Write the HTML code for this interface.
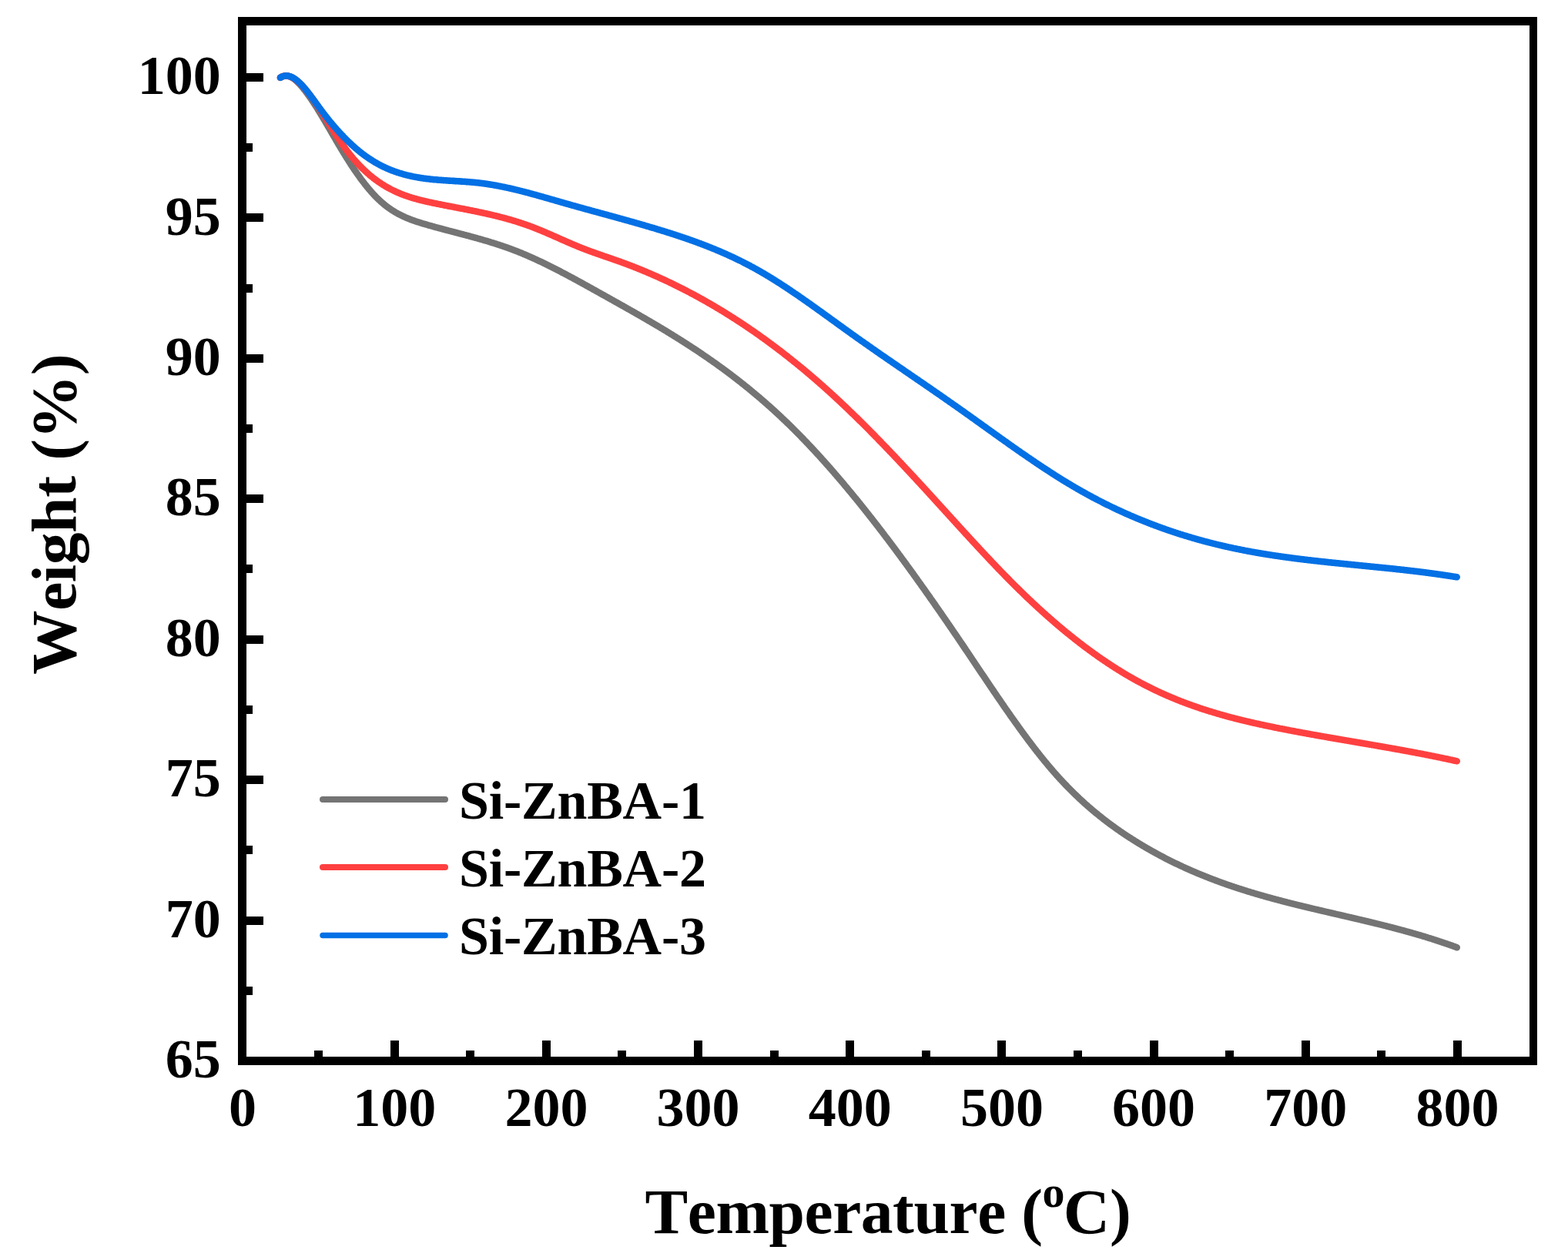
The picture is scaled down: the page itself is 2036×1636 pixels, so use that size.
<!DOCTYPE html>
<html><head><meta charset="utf-8"><title>TGA</title>
<style>
html,body{margin:0;padding:0;background:#fff;width:2036px;height:1636px;overflow:hidden}
svg{display:block}
text{font-family:"Liberation Serif","Times New Roman",serif;font-weight:bold;fill:#000;font-kerning:none}
</style></head><body>
<svg width="2036" height="1636" viewBox="0 0 2036 1636">
<rect width="2036" height="1636" fill="#fff"/>
<path d="M364.0,101.0 L365.0,100.3 L366.0,99.7 L367.0,99.2 L368.0,98.9 L369.0,98.6 L370.0,98.4 L371.0,98.4 L372.0,98.4 L373.0,98.5 L374.0,98.6 L375.0,98.9 L376.0,99.2 L377.0,99.6 L378.0,100.1 L379.0,100.7 L380.0,101.3 L381.0,101.9 L382.0,102.7 L383.0,103.5 L384.0,104.3 L385.0,105.2 L386.0,106.1 L387.0,107.1 L388.0,108.1 L389.0,109.2 L390.0,110.3 L391.0,111.4 L392.0,112.6 L393.0,113.8 L394.0,115.0 L395.0,116.3 L396.0,117.5 L397.0,118.8 L398.0,120.2 L399.0,121.5 L400.0,122.9 L401.0,124.3 L402.0,125.7 L403.0,127.1 L404.0,128.6 L405.0,130.0 L406.0,131.5 L407.0,133.0 L408.0,134.6 L409.0,136.1 L410.0,137.7 L411.0,139.2 L412.0,140.8 L413.0,142.4 L414.0,144.0 L415.0,145.7 L416.0,147.3 L417.0,149.0 L418.0,150.6 L419.0,152.3 L420.0,154.0 L421.0,155.6 L422.0,157.3 L423.0,159.0 L424.0,160.7 L425.0,162.4 L426.0,164.2 L427.0,165.9 L428.0,167.6 L429.0,169.3 L430.0,171.0 L431.0,172.8 L432.0,174.5 L433.0,176.2 L434.0,177.9 L435.0,179.6 L436.0,181.3 L437.0,183.1 L438.0,184.8 L439.0,186.5 L440.0,188.2 L441.0,189.8 L442.0,191.5 L443.0,193.2 L444.0,194.9 L445.0,196.5 L446.0,198.2 L447.0,199.8 L448.0,201.4 L449.0,203.0 L450.0,204.6 L451.0,206.2 L452.0,207.8 L453.0,209.4 L454.0,210.9 L455.0,212.5 L456.0,214.0 L457.0,215.5 L458.0,217.0 L459.0,218.5 L460.0,220.0 L461.0,221.5 L462.0,222.9 L463.0,224.4 L464.0,225.8 L465.0,227.2 L466.0,228.6 L467.0,230.0 L468.0,231.4 L469.0,232.8 L470.0,234.1 L471.0,235.4 L472.0,236.7 L473.0,238.0 L474.0,239.3 L475.0,240.6 L476.0,241.8 L477.0,243.1 L478.0,244.3 L479.0,245.5 L480.0,246.6 L481.0,247.8 L482.0,249.0 L483.0,250.1 L484.0,251.2 L485.0,252.3 L486.0,253.4 L487.0,254.4 L488.0,255.5 L489.0,256.5 L490.0,257.5 L491.0,258.4 L492.0,259.4 L493.0,260.3 L494.0,261.3 L495.0,262.2 L496.0,263.0 L497.0,263.9 L498.0,264.7 L499.0,265.6 L500.0,266.4 L501.0,267.2 L502.0,267.9 L503.0,268.7 L504.0,269.4 L505.0,270.1 L506.0,270.9 L507.0,271.5 L508.0,272.2 L509.0,272.9 L510.0,273.5 L511.0,274.1 L512.0,274.8 L513.0,275.4 L514.0,276.0 L515.0,276.5 L516.0,277.1 L517.0,277.6 L518.0,278.2 L519.0,278.7 L520.0,279.2 L521.0,279.7 L522.0,280.2 L523.0,280.7 L524.0,281.1 L525.0,281.6 L526.0,282.0 L527.0,282.5 L528.0,282.9 L529.0,283.3 L530.0,283.7 L531.0,284.1 L532.0,284.5 L533.0,284.9 L534.0,285.3 L535.0,285.7 L536.0,286.0 L537.0,286.4 L538.0,286.7 L539.0,287.1 L540.0,287.4 L541.0,287.8 L542.0,288.1 L543.0,288.4 L544.0,288.7 L545.0,289.0 L546.0,289.3 L547.0,289.7 L548.0,290.0 L549.0,290.3 L550.0,290.6 L551.0,290.8 L552.0,291.1 L553.0,291.4 L554.0,291.7 L555.0,292.0 L556.0,292.3 L557.0,292.6 L558.0,292.9 L559.0,293.1 L560.0,293.4 L561.0,293.7 L562.0,294.0 L563.0,294.3 L564.0,294.5 L565.0,294.8 L566.0,295.1 L567.0,295.4 L568.0,295.6 L569.0,295.9 L570.0,296.2 L571.0,296.4 L572.0,296.7 L573.0,297.0 L574.0,297.2 L575.0,297.5 L576.0,297.8 L577.0,298.0 L578.0,298.3 L579.0,298.6 L580.0,298.8 L581.0,299.1 L582.0,299.4 L583.0,299.6 L584.0,299.9 L585.0,300.1 L586.0,300.4 L587.0,300.7 L588.0,300.9 L589.0,301.2 L590.0,301.5 L591.0,301.7 L592.0,302.0 L593.0,302.2 L594.0,302.5 L595.0,302.8 L596.0,303.0 L597.0,303.3 L598.0,303.6 L599.0,303.8 L600.0,304.1 L601.0,304.3 L602.0,304.6 L603.0,304.9 L604.0,305.1 L605.0,305.4 L606.0,305.7 L607.0,305.9 L608.0,306.2 L609.0,306.5 L610.0,306.7 L611.0,307.0 L612.0,307.3 L613.0,307.6 L614.0,307.8 L615.0,308.1 L616.0,308.4 L617.0,308.7 L618.0,308.9 L619.0,309.2 L620.0,309.5 L621.0,309.8 L622.0,310.1 L623.0,310.3 L624.0,310.6 L625.0,310.9 L626.0,311.2 L627.0,311.5 L628.0,311.8 L629.0,312.1 L630.0,312.4 L631.0,312.6 L632.0,312.9 L633.0,313.2 L634.0,313.5 L635.0,313.8 L636.0,314.1 L637.0,314.5 L638.0,314.8 L639.0,315.1 L640.0,315.4 L641.0,315.7 L642.0,316.0 L643.0,316.3 L644.0,316.6 L645.0,317.0 L646.0,317.3 L647.0,317.6 L648.0,317.9 L649.0,318.3 L650.0,318.6 L651.0,318.9 L652.0,319.3 L653.0,319.6 L654.0,320.0 L655.0,320.3 L656.0,320.7 L657.0,321.0 L658.0,321.4 L659.0,321.7 L660.0,322.1 L661.0,322.4 L662.0,322.8 L663.0,323.2 L664.0,323.5 L665.0,323.9 L666.0,324.3 L667.0,324.7 L668.0,325.1 L669.0,325.4 L670.0,325.8 L671.0,326.2 L672.0,326.6 L673.0,327.0 L674.0,327.4 L675.0,327.8 L676.0,328.2 L677.0,328.6 L678.0,329.0 L679.0,329.5 L680.0,329.9 L681.0,330.3 L682.0,330.7 L683.0,331.2 L684.0,331.6 L685.0,332.0 L686.0,332.4 L687.0,332.9 L688.0,333.3 L689.0,333.8 L690.0,334.2 L691.0,334.7 L692.0,335.1 L693.0,335.6 L694.0,336.0 L695.0,336.5 L696.0,336.9 L697.0,337.4 L698.0,337.9 L699.0,338.3 L700.0,338.8 L701.0,339.3 L702.0,339.7 L703.0,340.2 L704.0,340.7 L705.0,341.2 L706.0,341.7 L707.0,342.1 L708.0,342.6 L709.0,343.1 L710.0,343.6 L711.0,344.1 L712.0,344.6 L713.0,345.1 L714.0,345.6 L715.0,346.1 L716.0,346.6 L717.0,347.1 L718.0,347.6 L719.0,348.1 L720.0,348.6 L721.0,349.1 L722.0,349.6 L723.0,350.1 L724.0,350.7 L725.0,351.2 L726.0,351.7 L727.0,352.2 L728.0,352.7 L729.0,353.3 L730.0,353.8 L731.0,354.3 L732.0,354.8 L733.0,355.4 L734.0,355.9 L735.0,356.4 L736.0,356.9 L737.0,357.5 L738.0,358.0 L739.0,358.6 L740.0,359.1 L741.0,359.6 L742.0,360.2 L743.0,360.7 L744.0,361.2 L745.0,361.8 L746.0,362.3 L747.0,362.9 L748.0,363.4 L749.0,364.0 L750.0,364.5 L751.0,365.1 L752.0,365.6 L753.0,366.1 L754.0,366.7 L755.0,367.2 L756.0,367.8 L757.0,368.3 L758.0,368.9 L759.0,369.5 L760.0,370.0 L761.0,370.6 L762.0,371.1 L763.0,371.7 L764.0,372.2 L765.0,372.8 L766.0,373.3 L767.0,373.9 L768.0,374.4 L769.0,375.0 L770.0,375.6 L771.0,376.1 L772.0,376.7 L773.0,377.2 L774.0,377.8 L775.0,378.3 L776.0,378.9 L777.0,379.5 L778.0,380.0 L779.0,380.6 L780.0,381.1 L781.0,381.7 L782.0,382.3 L783.0,382.8 L784.0,383.4 L785.0,383.9 L786.0,384.5 L787.0,385.0 L788.0,385.6 L789.0,386.2 L790.0,386.7 L791.0,387.3 L792.0,387.8 L793.0,388.4 L794.0,389.0 L795.0,389.5 L796.0,390.1 L797.0,390.6 L798.0,391.2 L799.0,391.8 L800.0,392.3 L801.0,392.9 L802.0,393.4 L803.0,394.0 L804.0,394.6 L805.0,395.1 L806.0,395.7 L807.0,396.3 L808.0,396.8 L809.0,397.4 L810.0,397.9 L811.0,398.5 L812.0,399.1 L813.0,399.6 L814.0,400.2 L815.0,400.8 L816.0,401.3 L817.0,401.9 L818.0,402.5 L819.0,403.0 L820.0,403.6 L821.0,404.2 L822.0,404.7 L823.0,405.3 L824.0,405.9 L825.0,406.4 L826.0,407.0 L827.0,407.6 L828.0,408.2 L829.0,408.7 L830.0,409.3 L831.0,409.9 L832.0,410.5 L833.0,411.0 L834.0,411.6 L835.0,412.2 L836.0,412.8 L837.0,413.4 L838.0,413.9 L839.0,414.5 L840.0,415.1 L841.0,415.7 L842.0,416.3 L843.0,416.8 L844.0,417.4 L845.0,418.0 L846.0,418.6 L847.0,419.2 L848.0,419.8 L849.0,420.4 L850.0,421.0 L851.0,421.6 L852.0,422.1 L853.0,422.7 L854.0,423.3 L855.0,423.9 L856.0,424.5 L857.0,425.1 L858.0,425.7 L859.0,426.3 L860.0,426.9 L861.0,427.5 L862.0,428.1 L863.0,428.7 L864.0,429.3 L865.0,429.9 L866.0,430.5 L867.0,431.2 L868.0,431.8 L869.0,432.4 L870.0,433.0 L871.0,433.6 L872.0,434.2 L873.0,434.8 L874.0,435.5 L875.0,436.1 L876.0,436.7 L877.0,437.3 L878.0,437.9 L879.0,438.6 L880.0,439.2 L881.0,439.8 L882.0,440.4 L883.0,441.1 L884.0,441.7 L885.0,442.3 L886.0,443.0 L887.0,443.6 L888.0,444.2 L889.0,444.9 L890.0,445.5 L891.0,446.2 L892.0,446.8 L893.0,447.5 L894.0,448.1 L895.0,448.7 L896.0,449.4 L897.0,450.0 L898.0,450.7 L899.0,451.4 L900.0,452.0 L901.0,452.7 L902.0,453.3 L903.0,454.0 L904.0,454.6 L905.0,455.3 L906.0,456.0 L907.0,456.6 L908.0,457.3 L909.0,458.0 L910.0,458.7 L911.0,459.3 L912.0,460.0 L913.0,460.7 L914.0,461.4 L915.0,462.1 L916.0,462.7 L917.0,463.4 L918.0,464.1 L919.0,464.8 L920.0,465.5 L921.0,466.2 L922.0,466.9 L923.0,467.6 L924.0,468.3 L925.0,469.0 L926.0,469.7 L927.0,470.4 L928.0,471.1 L929.0,471.8 L930.0,472.5 L931.0,473.2 L932.0,474.0 L933.0,474.7 L934.0,475.4 L935.0,476.1 L936.0,476.9 L937.0,477.6 L938.0,478.3 L939.0,479.0 L940.0,479.8 L941.0,480.5 L942.0,481.2 L943.0,482.0 L944.0,482.7 L945.0,483.5 L946.0,484.2 L947.0,485.0 L948.0,485.7 L949.0,486.5 L950.0,487.2 L951.0,488.0 L952.0,488.8 L953.0,489.5 L954.0,490.3 L955.0,491.1 L956.0,491.8 L957.0,492.6 L958.0,493.4 L959.0,494.2 L960.0,494.9 L961.0,495.7 L962.0,496.5 L963.0,497.3 L964.0,498.1 L965.0,498.9 L966.0,499.7 L967.0,500.5 L968.0,501.3 L969.0,502.1 L970.0,502.9 L971.0,503.7 L972.0,504.5 L973.0,505.3 L974.0,506.2 L975.0,507.0 L976.0,507.8 L977.0,508.6 L978.0,509.5 L979.0,510.3 L980.0,511.1 L981.0,512.0 L982.0,512.8 L983.0,513.6 L984.0,514.5 L985.0,515.3 L986.0,516.2 L987.0,517.0 L988.0,517.9 L989.0,518.8 L990.0,519.6 L991.0,520.5 L992.0,521.4 L993.0,522.2 L994.0,523.1 L995.0,524.0 L996.0,524.9 L997.0,525.8 L998.0,526.6 L999.0,527.5 L1000.0,528.4 L1001.0,529.3 L1002.0,530.2 L1003.0,531.1 L1004.0,532.0 L1005.0,532.9 L1006.0,533.9 L1007.0,534.8 L1008.0,535.7 L1009.0,536.6 L1010.0,537.5 L1011.0,538.5 L1012.0,539.4 L1013.0,540.3 L1014.0,541.3 L1015.0,542.2 L1016.0,543.2 L1017.0,544.1 L1018.0,545.1 L1019.0,546.0 L1020.0,547.0 L1021.0,547.9 L1022.0,548.9 L1023.0,549.9 L1024.0,550.8 L1025.0,551.8 L1026.0,552.8 L1027.0,553.8 L1028.0,554.8 L1029.0,555.7 L1030.0,556.7 L1031.0,557.7 L1032.0,558.7 L1033.0,559.7 L1034.0,560.7 L1035.0,561.7 L1036.0,562.8 L1037.0,563.8 L1038.0,564.8 L1039.0,565.8 L1040.0,566.8 L1041.0,567.9 L1042.0,568.9 L1043.0,569.9 L1044.0,571.0 L1045.0,572.0 L1046.0,573.0 L1047.0,574.1 L1048.0,575.1 L1049.0,576.2 L1050.0,577.2 L1051.0,578.3 L1052.0,579.4 L1053.0,580.4 L1054.0,581.5 L1055.0,582.6 L1056.0,583.6 L1057.0,584.7 L1058.0,585.8 L1059.0,586.9 L1060.0,588.0 L1061.0,589.1 L1062.0,590.1 L1063.0,591.2 L1064.0,592.3 L1065.0,593.4 L1066.0,594.5 L1067.0,595.7 L1068.0,596.8 L1069.0,597.9 L1070.0,599.0 L1071.0,600.1 L1072.0,601.2 L1073.0,602.4 L1074.0,603.5 L1075.0,604.6 L1076.0,605.7 L1077.0,606.9 L1078.0,608.0 L1079.0,609.2 L1080.0,610.3 L1081.0,611.4 L1082.0,612.6 L1083.0,613.7 L1084.0,614.9 L1085.0,616.1 L1086.0,617.2 L1087.0,618.4 L1088.0,619.6 L1089.0,620.7 L1090.0,621.9 L1091.0,623.1 L1092.0,624.2 L1093.0,625.4 L1094.0,626.6 L1095.0,627.8 L1096.0,629.0 L1097.0,630.2 L1098.0,631.4 L1099.0,632.6 L1100.0,633.8 L1101.0,635.0 L1102.0,636.2 L1103.0,637.4 L1104.0,638.6 L1105.0,639.8 L1106.0,641.0 L1107.0,642.2 L1108.0,643.4 L1109.0,644.7 L1110.0,645.9 L1111.0,647.1 L1112.0,648.3 L1113.0,649.6 L1114.0,650.8 L1115.0,652.0 L1116.0,653.3 L1117.0,654.5 L1118.0,655.8 L1119.0,657.0 L1120.0,658.3 L1121.0,659.5 L1122.0,660.8 L1123.0,662.0 L1124.0,663.3 L1125.0,664.5 L1126.0,665.8 L1127.0,667.1 L1128.0,668.3 L1129.0,669.6 L1130.0,670.9 L1131.0,672.1 L1132.0,673.4 L1133.0,674.7 L1134.0,676.0 L1135.0,677.3 L1136.0,678.5 L1137.0,679.8 L1138.0,681.1 L1139.0,682.4 L1140.0,683.7 L1141.0,685.0 L1142.0,686.3 L1143.0,687.6 L1144.0,688.9 L1145.0,690.2 L1146.0,691.5 L1147.0,692.8 L1148.0,694.2 L1149.0,695.5 L1150.0,696.8 L1151.0,698.1 L1152.0,699.4 L1153.0,700.7 L1154.0,702.1 L1155.0,703.4 L1156.0,704.7 L1157.0,706.1 L1158.0,707.4 L1159.0,708.7 L1160.0,710.1 L1161.0,711.4 L1162.0,712.7 L1163.0,714.1 L1164.0,715.4 L1165.0,716.8 L1166.0,718.1 L1167.0,719.5 L1168.0,720.8 L1169.0,722.2 L1170.0,723.5 L1171.0,724.9 L1172.0,726.3 L1173.0,727.6 L1174.0,729.0 L1175.0,730.4 L1176.0,731.7 L1177.0,733.1 L1178.0,734.5 L1179.0,735.8 L1180.0,737.2 L1181.0,738.6 L1182.0,740.0 L1183.0,741.4 L1184.0,742.7 L1185.0,744.1 L1186.0,745.5 L1187.0,746.9 L1188.0,748.3 L1189.0,749.7 L1190.0,751.1 L1191.0,752.5 L1192.0,753.9 L1193.0,755.3 L1194.0,756.7 L1195.0,758.1 L1196.0,759.5 L1197.0,760.9 L1198.0,762.3 L1199.0,763.7 L1200.0,765.1 L1201.0,766.5 L1202.0,767.9 L1203.0,769.4 L1204.0,770.8 L1205.0,772.2 L1206.0,773.6 L1207.0,775.0 L1208.0,776.5 L1209.0,777.9 L1210.0,779.3 L1211.0,780.7 L1212.0,782.2 L1213.0,783.6 L1214.0,785.0 L1215.0,786.5 L1216.0,787.9 L1217.0,789.3 L1218.0,790.8 L1219.0,792.2 L1220.0,793.7 L1221.0,795.1 L1222.0,796.5 L1223.0,798.0 L1224.0,799.4 L1225.0,800.9 L1226.0,802.3 L1227.0,803.8 L1228.0,805.2 L1229.0,806.7 L1230.0,808.1 L1231.0,809.6 L1232.0,811.1 L1233.0,812.5 L1234.0,814.0 L1235.0,815.4 L1236.0,816.9 L1237.0,818.4 L1238.0,819.8 L1239.0,821.3 L1240.0,822.8 L1241.0,824.2 L1242.0,825.7 L1243.0,827.2 L1244.0,828.7 L1245.0,830.1 L1246.0,831.6 L1247.0,833.1 L1248.0,834.6 L1249.0,836.0 L1250.0,837.5 L1251.0,839.0 L1252.0,840.5 L1253.0,842.0 L1254.0,843.5 L1255.0,844.9 L1256.0,846.4 L1257.0,847.9 L1258.0,849.4 L1259.0,850.9 L1260.0,852.4 L1261.0,853.9 L1262.0,855.4 L1263.0,856.9 L1264.0,858.3 L1265.0,859.8 L1266.0,861.3 L1267.0,862.8 L1268.0,864.3 L1269.0,865.8 L1270.0,867.3 L1271.0,868.8 L1272.0,870.3 L1273.0,871.8 L1274.0,873.3 L1275.0,874.8 L1276.0,876.2 L1277.0,877.7 L1278.0,879.2 L1279.0,880.7 L1280.0,882.2 L1281.0,883.7 L1282.0,885.2 L1283.0,886.6 L1284.0,888.1 L1285.0,889.6 L1286.0,891.1 L1287.0,892.6 L1288.0,894.1 L1289.0,895.5 L1290.0,897.0 L1291.0,898.5 L1292.0,899.9 L1293.0,901.4 L1294.0,902.9 L1295.0,904.4 L1296.0,905.8 L1297.0,907.3 L1298.0,908.7 L1299.0,910.2 L1300.0,911.7 L1301.0,913.1 L1302.0,914.6 L1303.0,916.0 L1304.0,917.5 L1305.0,918.9 L1306.0,920.4 L1307.0,921.8 L1308.0,923.2 L1309.0,924.7 L1310.0,926.1 L1311.0,927.5 L1312.0,929.0 L1313.0,930.4 L1314.0,931.8 L1315.0,933.2 L1316.0,934.6 L1317.0,936.0 L1318.0,937.4 L1319.0,938.8 L1320.0,940.2 L1321.0,941.6 L1322.0,943.0 L1323.0,944.4 L1324.0,945.8 L1325.0,947.2 L1326.0,948.6 L1327.0,949.9 L1328.0,951.3 L1329.0,952.7 L1330.0,954.0 L1331.0,955.4 L1332.0,956.7 L1333.0,958.1 L1334.0,959.4 L1335.0,960.8 L1336.0,962.1 L1337.0,963.4 L1338.0,964.7 L1339.0,966.1 L1340.0,967.4 L1341.0,968.7 L1342.0,970.0 L1343.0,971.3 L1344.0,972.6 L1345.0,973.9 L1346.0,975.2 L1347.0,976.4 L1348.0,977.7 L1349.0,979.0 L1350.0,980.2 L1351.0,981.5 L1352.0,982.8 L1353.0,984.0 L1354.0,985.2 L1355.0,986.5 L1356.0,987.7 L1357.0,988.9 L1358.0,990.1 L1359.0,991.3 L1360.0,992.5 L1361.0,993.7 L1362.0,994.9 L1363.0,996.1 L1364.0,997.3 L1365.0,998.5 L1366.0,999.6 L1367.0,1000.8 L1368.0,1001.9 L1369.0,1003.1 L1370.0,1004.2 L1371.0,1005.3 L1372.0,1006.5 L1373.0,1007.6 L1374.0,1008.7 L1375.0,1009.8 L1376.0,1010.9 L1377.0,1012.0 L1378.0,1013.0 L1379.0,1014.1 L1380.0,1015.2 L1381.0,1016.3 L1382.0,1017.3 L1383.0,1018.4 L1384.0,1019.4 L1385.0,1020.4 L1386.0,1021.5 L1387.0,1022.5 L1388.0,1023.5 L1389.0,1024.5 L1390.0,1025.5 L1391.0,1026.5 L1392.0,1027.5 L1393.0,1028.5 L1394.0,1029.5 L1395.0,1030.5 L1396.0,1031.5 L1397.0,1032.4 L1398.0,1033.4 L1399.0,1034.3 L1400.0,1035.3 L1401.0,1036.2 L1402.0,1037.2 L1403.0,1038.1 L1404.0,1039.0 L1405.0,1039.9 L1406.0,1040.9 L1407.0,1041.8 L1408.0,1042.7 L1409.0,1043.6 L1410.0,1044.5 L1411.0,1045.3 L1412.0,1046.2 L1413.0,1047.1 L1414.0,1048.0 L1415.0,1048.8 L1416.0,1049.7 L1417.0,1050.6 L1418.0,1051.4 L1419.0,1052.3 L1420.0,1053.1 L1421.0,1053.9 L1422.0,1054.8 L1423.0,1055.6 L1424.0,1056.4 L1425.0,1057.2 L1426.0,1058.0 L1427.0,1058.8 L1428.0,1059.6 L1429.0,1060.4 L1430.0,1061.2 L1431.0,1062.0 L1432.0,1062.8 L1433.0,1063.6 L1434.0,1064.4 L1435.0,1065.1 L1436.0,1065.9 L1437.0,1066.7 L1438.0,1067.4 L1439.0,1068.2 L1440.0,1068.9 L1441.0,1069.7 L1442.0,1070.4 L1443.0,1071.1 L1444.0,1071.9 L1445.0,1072.6 L1446.0,1073.3 L1447.0,1074.0 L1448.0,1074.8 L1449.0,1075.5 L1450.0,1076.2 L1451.0,1076.9 L1452.0,1077.6 L1453.0,1078.3 L1454.0,1079.0 L1455.0,1079.7 L1456.0,1080.4 L1457.0,1081.0 L1458.0,1081.7 L1459.0,1082.4 L1460.0,1083.1 L1461.0,1083.7 L1462.0,1084.4 L1463.0,1085.1 L1464.0,1085.7 L1465.0,1086.4 L1466.0,1087.0 L1467.0,1087.7 L1468.0,1088.3 L1469.0,1088.9 L1470.0,1089.6 L1471.0,1090.2 L1472.0,1090.8 L1473.0,1091.5 L1474.0,1092.1 L1475.0,1092.7 L1476.0,1093.3 L1477.0,1094.0 L1478.0,1094.6 L1479.0,1095.2 L1480.0,1095.8 L1481.0,1096.4 L1482.0,1097.0 L1483.0,1097.6 L1484.0,1098.2 L1485.0,1098.8 L1486.0,1099.4 L1487.0,1100.0 L1488.0,1100.6 L1489.0,1101.1 L1490.0,1101.7 L1491.0,1102.3 L1492.0,1102.9 L1493.0,1103.4 L1494.0,1104.0 L1495.0,1104.6 L1496.0,1105.1 L1497.0,1105.7 L1498.0,1106.2 L1499.0,1106.8 L1500.0,1107.4 L1501.0,1107.9 L1502.0,1108.4 L1503.0,1109.0 L1504.0,1109.5 L1505.0,1110.1 L1506.0,1110.6 L1507.0,1111.1 L1508.0,1111.7 L1509.0,1112.2 L1510.0,1112.7 L1511.0,1113.2 L1512.0,1113.8 L1513.0,1114.3 L1514.0,1114.8 L1515.0,1115.3 L1516.0,1115.8 L1517.0,1116.3 L1518.0,1116.8 L1519.0,1117.3 L1520.0,1117.8 L1521.0,1118.3 L1522.0,1118.8 L1523.0,1119.3 L1524.0,1119.8 L1525.0,1120.3 L1526.0,1120.8 L1527.0,1121.3 L1528.0,1121.7 L1529.0,1122.2 L1530.0,1122.7 L1531.0,1123.2 L1532.0,1123.6 L1533.0,1124.1 L1534.0,1124.6 L1535.0,1125.0 L1536.0,1125.5 L1537.0,1126.0 L1538.0,1126.4 L1539.0,1126.9 L1540.0,1127.3 L1541.0,1127.8 L1542.0,1128.2 L1543.0,1128.7 L1544.0,1129.1 L1545.0,1129.6 L1546.0,1130.0 L1547.0,1130.4 L1548.0,1130.9 L1549.0,1131.3 L1550.0,1131.7 L1551.0,1132.2 L1552.0,1132.6 L1553.0,1133.0 L1554.0,1133.4 L1555.0,1133.9 L1556.0,1134.3 L1557.0,1134.7 L1558.0,1135.1 L1559.0,1135.5 L1560.0,1135.9 L1561.0,1136.3 L1562.0,1136.7 L1563.0,1137.1 L1564.0,1137.5 L1565.0,1137.9 L1566.0,1138.3 L1567.0,1138.7 L1568.0,1139.1 L1569.0,1139.5 L1570.0,1139.9 L1571.0,1140.3 L1572.0,1140.7 L1573.0,1141.1 L1574.0,1141.5 L1575.0,1141.8 L1576.0,1142.2 L1577.0,1142.6 L1578.0,1143.0 L1579.0,1143.4 L1580.0,1143.7 L1581.0,1144.1 L1582.0,1144.5 L1583.0,1144.8 L1584.0,1145.2 L1585.0,1145.6 L1586.0,1145.9 L1587.0,1146.3 L1588.0,1146.6 L1589.0,1147.0 L1590.0,1147.3 L1591.0,1147.7 L1592.0,1148.1 L1593.0,1148.4 L1594.0,1148.8 L1595.0,1149.1 L1596.0,1149.4 L1597.0,1149.8 L1598.0,1150.1 L1599.0,1150.5 L1600.0,1150.8 L1601.0,1151.1 L1602.0,1151.5 L1603.0,1151.8 L1604.0,1152.1 L1605.0,1152.5 L1606.0,1152.8 L1607.0,1153.1 L1608.0,1153.5 L1609.0,1153.8 L1610.0,1154.1 L1611.0,1154.4 L1612.0,1154.7 L1613.0,1155.1 L1614.0,1155.4 L1615.0,1155.7 L1616.0,1156.0 L1617.0,1156.3 L1618.0,1156.6 L1619.0,1157.0 L1620.0,1157.3 L1621.0,1157.6 L1622.0,1157.9 L1623.0,1158.2 L1624.0,1158.5 L1625.0,1158.8 L1626.0,1159.1 L1627.0,1159.4 L1628.0,1159.7 L1629.0,1160.0 L1630.0,1160.3 L1631.0,1160.6 L1632.0,1160.9 L1633.0,1161.2 L1634.0,1161.5 L1635.0,1161.8 L1636.0,1162.0 L1637.0,1162.3 L1638.0,1162.6 L1639.0,1162.9 L1640.0,1163.2 L1641.0,1163.5 L1642.0,1163.8 L1643.0,1164.0 L1644.0,1164.3 L1645.0,1164.6 L1646.0,1164.9 L1647.0,1165.2 L1648.0,1165.4 L1649.0,1165.7 L1650.0,1166.0 L1651.0,1166.3 L1652.0,1166.5 L1653.0,1166.8 L1654.0,1167.1 L1655.0,1167.3 L1656.0,1167.6 L1657.0,1167.9 L1658.0,1168.1 L1659.0,1168.4 L1660.0,1168.7 L1661.0,1168.9 L1662.0,1169.2 L1663.0,1169.5 L1664.0,1169.7 L1665.0,1170.0 L1666.0,1170.3 L1667.0,1170.5 L1668.0,1170.8 L1669.0,1171.0 L1670.0,1171.3 L1671.0,1171.5 L1672.0,1171.8 L1673.0,1172.1 L1674.0,1172.3 L1675.0,1172.6 L1676.0,1172.8 L1677.0,1173.1 L1678.0,1173.3 L1679.0,1173.6 L1680.0,1173.8 L1681.0,1174.1 L1682.0,1174.3 L1683.0,1174.6 L1684.0,1174.8 L1685.0,1175.1 L1686.0,1175.3 L1687.0,1175.6 L1688.0,1175.8 L1689.0,1176.0 L1690.0,1176.3 L1691.0,1176.5 L1692.0,1176.8 L1693.0,1177.0 L1694.0,1177.3 L1695.0,1177.5 L1696.0,1177.7 L1697.0,1178.0 L1698.0,1178.2 L1699.0,1178.5 L1700.0,1178.7 L1701.0,1178.9 L1702.0,1179.2 L1703.0,1179.4 L1704.0,1179.7 L1705.0,1179.9 L1706.0,1180.1 L1707.0,1180.4 L1708.0,1180.6 L1709.0,1180.8 L1710.0,1181.1 L1711.0,1181.3 L1712.0,1181.5 L1713.0,1181.8 L1714.0,1182.0 L1715.0,1182.2 L1716.0,1182.5 L1717.0,1182.7 L1718.0,1182.9 L1719.0,1183.2 L1720.0,1183.4 L1721.0,1183.6 L1722.0,1183.9 L1723.0,1184.1 L1724.0,1184.3 L1725.0,1184.6 L1726.0,1184.8 L1727.0,1185.0 L1728.0,1185.3 L1729.0,1185.5 L1730.0,1185.7 L1731.0,1186.0 L1732.0,1186.2 L1733.0,1186.4 L1734.0,1186.7 L1735.0,1186.9 L1736.0,1187.1 L1737.0,1187.4 L1738.0,1187.6 L1739.0,1187.8 L1740.0,1188.0 L1741.0,1188.3 L1742.0,1188.5 L1743.0,1188.7 L1744.0,1189.0 L1745.0,1189.2 L1746.0,1189.4 L1747.0,1189.7 L1748.0,1189.9 L1749.0,1190.1 L1750.0,1190.4 L1751.0,1190.6 L1752.0,1190.8 L1753.0,1191.1 L1754.0,1191.3 L1755.0,1191.5 L1756.0,1191.8 L1757.0,1192.0 L1758.0,1192.2 L1759.0,1192.5 L1760.0,1192.7 L1761.0,1192.9 L1762.0,1193.2 L1763.0,1193.4 L1764.0,1193.6 L1765.0,1193.9 L1766.0,1194.1 L1767.0,1194.3 L1768.0,1194.6 L1769.0,1194.8 L1770.0,1195.1 L1771.0,1195.3 L1772.0,1195.5 L1773.0,1195.8 L1774.0,1196.0 L1775.0,1196.2 L1776.0,1196.5 L1777.0,1196.7 L1778.0,1197.0 L1779.0,1197.2 L1780.0,1197.4 L1781.0,1197.7 L1782.0,1197.9 L1783.0,1198.2 L1784.0,1198.4 L1785.0,1198.7 L1786.0,1198.9 L1787.0,1199.2 L1788.0,1199.4 L1789.0,1199.6 L1790.0,1199.9 L1791.0,1200.1 L1792.0,1200.4 L1793.0,1200.6 L1794.0,1200.9 L1795.0,1201.1 L1796.0,1201.4 L1797.0,1201.6 L1798.0,1201.9 L1799.0,1202.1 L1800.0,1202.4 L1801.0,1202.7 L1802.0,1202.9 L1803.0,1203.2 L1804.0,1203.4 L1805.0,1203.7 L1806.0,1203.9 L1807.0,1204.2 L1808.0,1204.5 L1809.0,1204.7 L1810.0,1205.0 L1811.0,1205.2 L1812.0,1205.5 L1813.0,1205.8 L1814.0,1206.0 L1815.0,1206.3 L1816.0,1206.6 L1817.0,1206.8 L1818.0,1207.1 L1819.0,1207.4 L1820.0,1207.6 L1821.0,1207.9 L1822.0,1208.2 L1823.0,1208.5 L1824.0,1208.7 L1825.0,1209.0 L1826.0,1209.3 L1827.0,1209.6 L1828.0,1209.8 L1829.0,1210.1 L1830.0,1210.4 L1831.0,1210.7 L1832.0,1211.0 L1833.0,1211.2 L1834.0,1211.5 L1835.0,1211.8 L1836.0,1212.1 L1837.0,1212.4 L1838.0,1212.7 L1839.0,1213.0 L1840.0,1213.3 L1841.0,1213.5 L1842.0,1213.8 L1843.0,1214.1 L1844.0,1214.4 L1845.0,1214.7 L1846.0,1215.0 L1847.0,1215.3 L1848.0,1215.6 L1849.0,1215.9 L1850.0,1216.2 L1851.0,1216.5 L1852.0,1216.8 L1853.0,1217.2 L1854.0,1217.5 L1855.0,1217.8 L1856.0,1218.1 L1857.0,1218.4 L1858.0,1218.7 L1859.0,1219.0 L1860.0,1219.3 L1861.0,1219.7 L1862.0,1220.0 L1863.0,1220.3 L1864.0,1220.6 L1865.0,1220.9 L1866.0,1221.3 L1867.0,1221.6 L1868.0,1221.9 L1869.0,1222.3 L1870.0,1222.6 L1871.0,1222.9 L1872.0,1223.3 L1873.0,1223.6 L1874.0,1223.9 L1875.0,1224.3 L1876.0,1224.6 L1877.0,1224.9 L1878.0,1225.3 L1879.0,1225.6 L1880.0,1226.0 L1881.0,1226.3 L1882.0,1226.7 L1883.0,1227.0 L1884.0,1227.4 L1885.0,1227.7 L1886.0,1228.1 L1887.0,1228.5 L1888.0,1228.8 L1889.0,1229.2 L1890.0,1229.5 L1891.0,1229.9 L1891.7,1230.2" fill="none" stroke="#747474" stroke-width="8.6" stroke-linejoin="round" stroke-linecap="round"/>
<path d="M364.0,100.7 L365.0,100.1 L366.0,99.6 L367.0,99.3 L368.0,99.0 L369.0,98.7 L370.0,98.6 L371.0,98.5 L372.0,98.5 L373.0,98.6 L374.0,98.8 L375.0,99.0 L376.0,99.3 L377.0,99.6 L378.0,100.0 L379.0,100.5 L380.0,101.0 L381.0,101.6 L382.0,102.2 L383.0,102.9 L384.0,103.6 L385.0,104.4 L386.0,105.2 L387.0,106.1 L388.0,107.0 L389.0,107.9 L390.0,108.9 L391.0,109.9 L392.0,110.9 L393.0,112.0 L394.0,113.1 L395.0,114.2 L396.0,115.4 L397.0,116.6 L398.0,117.8 L399.0,119.0 L400.0,120.3 L401.0,121.6 L402.0,122.9 L403.0,124.2 L404.0,125.6 L405.0,126.9 L406.0,128.3 L407.0,129.7 L408.0,131.2 L409.0,132.6 L410.0,134.1 L411.0,135.6 L412.0,137.1 L413.0,138.6 L414.0,140.1 L415.0,141.6 L416.0,143.1 L417.0,144.7 L418.0,146.2 L419.0,147.8 L420.0,149.4 L421.0,150.9 L422.0,152.5 L423.0,154.1 L424.0,155.7 L425.0,157.3 L426.0,158.9 L427.0,160.5 L428.0,162.0 L429.0,163.6 L430.0,165.2 L431.0,166.8 L432.0,168.4 L433.0,169.9 L434.0,171.5 L435.0,173.1 L436.0,174.6 L437.0,176.1 L438.0,177.7 L439.0,179.2 L440.0,180.7 L441.0,182.2 L442.0,183.7 L443.0,185.1 L444.0,186.6 L445.0,188.0 L446.0,189.4 L447.0,190.8 L448.0,192.2 L449.0,193.6 L450.0,194.9 L451.0,196.3 L452.0,197.6 L453.0,198.8 L454.0,200.1 L455.0,201.4 L456.0,202.6 L457.0,203.8 L458.0,205.0 L459.0,206.2 L460.0,207.4 L461.0,208.5 L462.0,209.6 L463.0,210.7 L464.0,211.8 L465.0,212.9 L466.0,214.0 L467.0,215.0 L468.0,216.1 L469.0,217.1 L470.0,218.1 L471.0,219.1 L472.0,220.0 L473.0,221.0 L474.0,221.9 L475.0,222.9 L476.0,223.8 L477.0,224.7 L478.0,225.5 L479.0,226.4 L480.0,227.3 L481.0,228.1 L482.0,228.9 L483.0,229.7 L484.0,230.5 L485.0,231.3 L486.0,232.1 L487.0,232.8 L488.0,233.6 L489.0,234.3 L490.0,235.0 L491.0,235.7 L492.0,236.4 L493.0,237.1 L494.0,237.8 L495.0,238.4 L496.0,239.1 L497.0,239.7 L498.0,240.3 L499.0,240.9 L500.0,241.6 L501.0,242.1 L502.0,242.7 L503.0,243.3 L504.0,243.8 L505.0,244.4 L506.0,244.9 L507.0,245.5 L508.0,246.0 L509.0,246.5 L510.0,247.0 L511.0,247.5 L512.0,247.9 L513.0,248.4 L514.0,248.9 L515.0,249.3 L516.0,249.8 L517.0,250.2 L518.0,250.6 L519.0,251.1 L520.0,251.5 L521.0,251.9 L522.0,252.3 L523.0,252.7 L524.0,253.0 L525.0,253.4 L526.0,253.8 L527.0,254.1 L528.0,254.5 L529.0,254.8 L530.0,255.2 L531.0,255.5 L532.0,255.8 L533.0,256.1 L534.0,256.5 L535.0,256.8 L536.0,257.1 L537.0,257.4 L538.0,257.7 L539.0,257.9 L540.0,258.2 L541.0,258.5 L542.0,258.8 L543.0,259.0 L544.0,259.3 L545.0,259.6 L546.0,259.8 L547.0,260.1 L548.0,260.3 L549.0,260.6 L550.0,260.8 L551.0,261.0 L552.0,261.3 L553.0,261.5 L554.0,261.7 L555.0,262.0 L556.0,262.2 L557.0,262.4 L558.0,262.6 L559.0,262.8 L560.0,263.0 L561.0,263.3 L562.0,263.5 L563.0,263.7 L564.0,263.9 L565.0,264.1 L566.0,264.3 L567.0,264.5 L568.0,264.7 L569.0,264.9 L570.0,265.1 L571.0,265.3 L572.0,265.5 L573.0,265.7 L574.0,265.9 L575.0,266.1 L576.0,266.3 L577.0,266.5 L578.0,266.7 L579.0,266.9 L580.0,267.1 L581.0,267.3 L582.0,267.5 L583.0,267.7 L584.0,267.9 L585.0,268.0 L586.0,268.2 L587.0,268.4 L588.0,268.6 L589.0,268.8 L590.0,269.0 L591.0,269.2 L592.0,269.4 L593.0,269.6 L594.0,269.8 L595.0,270.0 L596.0,270.2 L597.0,270.4 L598.0,270.6 L599.0,270.7 L600.0,270.9 L601.0,271.1 L602.0,271.3 L603.0,271.5 L604.0,271.7 L605.0,271.9 L606.0,272.1 L607.0,272.3 L608.0,272.5 L609.0,272.7 L610.0,272.9 L611.0,273.1 L612.0,273.3 L613.0,273.5 L614.0,273.7 L615.0,273.9 L616.0,274.1 L617.0,274.3 L618.0,274.5 L619.0,274.7 L620.0,274.9 L621.0,275.2 L622.0,275.4 L623.0,275.6 L624.0,275.8 L625.0,276.0 L626.0,276.2 L627.0,276.4 L628.0,276.7 L629.0,276.9 L630.0,277.1 L631.0,277.3 L632.0,277.5 L633.0,277.8 L634.0,278.0 L635.0,278.2 L636.0,278.4 L637.0,278.7 L638.0,278.9 L639.0,279.1 L640.0,279.4 L641.0,279.6 L642.0,279.9 L643.0,280.1 L644.0,280.3 L645.0,280.6 L646.0,280.8 L647.0,281.1 L648.0,281.3 L649.0,281.6 L650.0,281.9 L651.0,282.1 L652.0,282.4 L653.0,282.6 L654.0,282.9 L655.0,283.2 L656.0,283.4 L657.0,283.7 L658.0,284.0 L659.0,284.3 L660.0,284.6 L661.0,284.8 L662.0,285.1 L663.0,285.4 L664.0,285.7 L665.0,286.0 L666.0,286.3 L667.0,286.6 L668.0,286.9 L669.0,287.2 L670.0,287.5 L671.0,287.8 L672.0,288.1 L673.0,288.5 L674.0,288.8 L675.0,289.1 L676.0,289.4 L677.0,289.8 L678.0,290.1 L679.0,290.4 L680.0,290.8 L681.0,291.1 L682.0,291.4 L683.0,291.8 L684.0,292.2 L685.0,292.5 L686.0,292.9 L687.0,293.2 L688.0,293.6 L689.0,294.0 L690.0,294.3 L691.0,294.7 L692.0,295.1 L693.0,295.5 L694.0,295.9 L695.0,296.3 L696.0,296.7 L697.0,297.1 L698.0,297.5 L699.0,297.9 L700.0,298.3 L701.0,298.7 L702.0,299.1 L703.0,299.5 L704.0,299.9 L705.0,300.3 L706.0,300.8 L707.0,301.2 L708.0,301.6 L709.0,302.0 L710.0,302.5 L711.0,302.9 L712.0,303.3 L713.0,303.8 L714.0,304.2 L715.0,304.6 L716.0,305.1 L717.0,305.5 L718.0,306.0 L719.0,306.4 L720.0,306.8 L721.0,307.3 L722.0,307.7 L723.0,308.2 L724.0,308.6 L725.0,309.0 L726.0,309.5 L727.0,309.9 L728.0,310.4 L729.0,310.8 L730.0,311.3 L731.0,311.7 L732.0,312.1 L733.0,312.6 L734.0,313.0 L735.0,313.5 L736.0,313.9 L737.0,314.3 L738.0,314.8 L739.0,315.2 L740.0,315.6 L741.0,316.1 L742.0,316.5 L743.0,316.9 L744.0,317.3 L745.0,317.8 L746.0,318.2 L747.0,318.6 L748.0,319.0 L749.0,319.4 L750.0,319.8 L751.0,320.3 L752.0,320.7 L753.0,321.1 L754.0,321.5 L755.0,321.9 L756.0,322.3 L757.0,322.7 L758.0,323.0 L759.0,323.4 L760.0,323.8 L761.0,324.2 L762.0,324.6 L763.0,324.9 L764.0,325.3 L765.0,325.7 L766.0,326.1 L767.0,326.4 L768.0,326.8 L769.0,327.1 L770.0,327.5 L771.0,327.9 L772.0,328.2 L773.0,328.6 L774.0,328.9 L775.0,329.3 L776.0,329.6 L777.0,330.0 L778.0,330.3 L779.0,330.7 L780.0,331.0 L781.0,331.4 L782.0,331.7 L783.0,332.1 L784.0,332.4 L785.0,332.8 L786.0,333.1 L787.0,333.4 L788.0,333.8 L789.0,334.1 L790.0,334.5 L791.0,334.8 L792.0,335.2 L793.0,335.5 L794.0,335.9 L795.0,336.2 L796.0,336.6 L797.0,336.9 L798.0,337.3 L799.0,337.6 L800.0,338.0 L801.0,338.3 L802.0,338.7 L803.0,339.0 L804.0,339.4 L805.0,339.7 L806.0,340.1 L807.0,340.5 L808.0,340.8 L809.0,341.2 L810.0,341.6 L811.0,341.9 L812.0,342.3 L813.0,342.7 L814.0,343.0 L815.0,343.4 L816.0,343.8 L817.0,344.2 L818.0,344.6 L819.0,344.9 L820.0,345.3 L821.0,345.7 L822.0,346.1 L823.0,346.5 L824.0,346.9 L825.0,347.3 L826.0,347.7 L827.0,348.1 L828.0,348.5 L829.0,348.9 L830.0,349.3 L831.0,349.7 L832.0,350.1 L833.0,350.5 L834.0,350.9 L835.0,351.3 L836.0,351.8 L837.0,352.2 L838.0,352.6 L839.0,353.0 L840.0,353.4 L841.0,353.9 L842.0,354.3 L843.0,354.7 L844.0,355.1 L845.0,355.6 L846.0,356.0 L847.0,356.4 L848.0,356.9 L849.0,357.3 L850.0,357.8 L851.0,358.2 L852.0,358.6 L853.0,359.1 L854.0,359.5 L855.0,360.0 L856.0,360.4 L857.0,360.9 L858.0,361.3 L859.0,361.8 L860.0,362.3 L861.0,362.7 L862.0,363.2 L863.0,363.6 L864.0,364.1 L865.0,364.6 L866.0,365.0 L867.0,365.5 L868.0,366.0 L869.0,366.5 L870.0,366.9 L871.0,367.4 L872.0,367.9 L873.0,368.4 L874.0,368.9 L875.0,369.4 L876.0,369.9 L877.0,370.3 L878.0,370.8 L879.0,371.3 L880.0,371.8 L881.0,372.3 L882.0,372.8 L883.0,373.3 L884.0,373.8 L885.0,374.3 L886.0,374.8 L887.0,375.4 L888.0,375.9 L889.0,376.4 L890.0,376.9 L891.0,377.4 L892.0,377.9 L893.0,378.5 L894.0,379.0 L895.0,379.5 L896.0,380.0 L897.0,380.6 L898.0,381.1 L899.0,381.6 L900.0,382.2 L901.0,382.7 L902.0,383.2 L903.0,383.8 L904.0,384.3 L905.0,384.9 L906.0,385.4 L907.0,385.9 L908.0,386.5 L909.0,387.1 L910.0,387.6 L911.0,388.2 L912.0,388.7 L913.0,389.3 L914.0,389.8 L915.0,390.4 L916.0,391.0 L917.0,391.5 L918.0,392.1 L919.0,392.7 L920.0,393.3 L921.0,393.8 L922.0,394.4 L923.0,395.0 L924.0,395.6 L925.0,396.1 L926.0,396.7 L927.0,397.3 L928.0,397.9 L929.0,398.5 L930.0,399.1 L931.0,399.7 L932.0,400.3 L933.0,400.9 L934.0,401.5 L935.0,402.1 L936.0,402.7 L937.0,403.3 L938.0,403.9 L939.0,404.5 L940.0,405.1 L941.0,405.8 L942.0,406.4 L943.0,407.0 L944.0,407.6 L945.0,408.2 L946.0,408.9 L947.0,409.5 L948.0,410.1 L949.0,410.7 L950.0,411.4 L951.0,412.0 L952.0,412.7 L953.0,413.3 L954.0,413.9 L955.0,414.6 L956.0,415.2 L957.0,415.9 L958.0,416.5 L959.0,417.2 L960.0,417.8 L961.0,418.5 L962.0,419.1 L963.0,419.8 L964.0,420.5 L965.0,421.1 L966.0,421.8 L967.0,422.5 L968.0,423.1 L969.0,423.8 L970.0,424.5 L971.0,425.2 L972.0,425.8 L973.0,426.5 L974.0,427.2 L975.0,427.9 L976.0,428.6 L977.0,429.3 L978.0,429.9 L979.0,430.6 L980.0,431.3 L981.0,432.0 L982.0,432.7 L983.0,433.4 L984.0,434.1 L985.0,434.8 L986.0,435.5 L987.0,436.3 L988.0,437.0 L989.0,437.7 L990.0,438.4 L991.0,439.1 L992.0,439.8 L993.0,440.6 L994.0,441.3 L995.0,442.0 L996.0,442.7 L997.0,443.5 L998.0,444.2 L999.0,444.9 L1000.0,445.7 L1001.0,446.4 L1002.0,447.1 L1003.0,447.9 L1004.0,448.6 L1005.0,449.4 L1006.0,450.1 L1007.0,450.9 L1008.0,451.6 L1009.0,452.4 L1010.0,453.2 L1011.0,453.9 L1012.0,454.7 L1013.0,455.4 L1014.0,456.2 L1015.0,457.0 L1016.0,457.7 L1017.0,458.5 L1018.0,459.3 L1019.0,460.1 L1020.0,460.9 L1021.0,461.6 L1022.0,462.4 L1023.0,463.2 L1024.0,464.0 L1025.0,464.8 L1026.0,465.6 L1027.0,466.4 L1028.0,467.2 L1029.0,468.0 L1030.0,468.8 L1031.0,469.6 L1032.0,470.4 L1033.0,471.2 L1034.0,472.0 L1035.0,472.8 L1036.0,473.6 L1037.0,474.4 L1038.0,475.3 L1039.0,476.1 L1040.0,476.9 L1041.0,477.7 L1042.0,478.5 L1043.0,479.4 L1044.0,480.2 L1045.0,481.0 L1046.0,481.9 L1047.0,482.7 L1048.0,483.6 L1049.0,484.4 L1050.0,485.2 L1051.0,486.1 L1052.0,486.9 L1053.0,487.8 L1054.0,488.6 L1055.0,489.5 L1056.0,490.4 L1057.0,491.2 L1058.0,492.1 L1059.0,492.9 L1060.0,493.8 L1061.0,494.7 L1062.0,495.6 L1063.0,496.4 L1064.0,497.3 L1065.0,498.2 L1066.0,499.1 L1067.0,499.9 L1068.0,500.8 L1069.0,501.7 L1070.0,502.6 L1071.0,503.5 L1072.0,504.4 L1073.0,505.3 L1074.0,506.2 L1075.0,507.1 L1076.0,508.0 L1077.0,508.9 L1078.0,509.8 L1079.0,510.7 L1080.0,511.6 L1081.0,512.5 L1082.0,513.5 L1083.0,514.4 L1084.0,515.3 L1085.0,516.2 L1086.0,517.1 L1087.0,518.1 L1088.0,519.0 L1089.0,519.9 L1090.0,520.9 L1091.0,521.8 L1092.0,522.7 L1093.0,523.7 L1094.0,524.6 L1095.0,525.6 L1096.0,526.5 L1097.0,527.5 L1098.0,528.4 L1099.0,529.4 L1100.0,530.3 L1101.0,531.3 L1102.0,532.2 L1103.0,533.2 L1104.0,534.2 L1105.0,535.1 L1106.0,536.1 L1107.0,537.1 L1108.0,538.0 L1109.0,539.0 L1110.0,540.0 L1111.0,541.0 L1112.0,541.9 L1113.0,542.9 L1114.0,543.9 L1115.0,544.9 L1116.0,545.9 L1117.0,546.9 L1118.0,547.8 L1119.0,548.8 L1120.0,549.8 L1121.0,550.8 L1122.0,551.8 L1123.0,552.8 L1124.0,553.8 L1125.0,554.8 L1126.0,555.8 L1127.0,556.8 L1128.0,557.8 L1129.0,558.8 L1130.0,559.8 L1131.0,560.9 L1132.0,561.9 L1133.0,562.9 L1134.0,563.9 L1135.0,564.9 L1136.0,565.9 L1137.0,567.0 L1138.0,568.0 L1139.0,569.0 L1140.0,570.0 L1141.0,571.1 L1142.0,572.1 L1143.0,573.1 L1144.0,574.1 L1145.0,575.2 L1146.0,576.2 L1147.0,577.2 L1148.0,578.3 L1149.0,579.3 L1150.0,580.4 L1151.0,581.4 L1152.0,582.4 L1153.0,583.5 L1154.0,584.5 L1155.0,585.6 L1156.0,586.6 L1157.0,587.7 L1158.0,588.7 L1159.0,589.8 L1160.0,590.8 L1161.0,591.9 L1162.0,592.9 L1163.0,594.0 L1164.0,595.0 L1165.0,596.1 L1166.0,597.2 L1167.0,598.2 L1168.0,599.3 L1169.0,600.4 L1170.0,601.4 L1171.0,602.5 L1172.0,603.5 L1173.0,604.6 L1174.0,605.7 L1175.0,606.7 L1176.0,607.8 L1177.0,608.9 L1178.0,610.0 L1179.0,611.0 L1180.0,612.1 L1181.0,613.2 L1182.0,614.3 L1183.0,615.3 L1184.0,616.4 L1185.0,617.5 L1186.0,618.6 L1187.0,619.6 L1188.0,620.7 L1189.0,621.8 L1190.0,622.9 L1191.0,624.0 L1192.0,625.1 L1193.0,626.1 L1194.0,627.2 L1195.0,628.3 L1196.0,629.4 L1197.0,630.5 L1198.0,631.6 L1199.0,632.7 L1200.0,633.8 L1201.0,634.8 L1202.0,635.9 L1203.0,637.0 L1204.0,638.1 L1205.0,639.2 L1206.0,640.3 L1207.0,641.4 L1208.0,642.5 L1209.0,643.6 L1210.0,644.7 L1211.0,645.8 L1212.0,646.9 L1213.0,648.0 L1214.0,649.1 L1215.0,650.2 L1216.0,651.3 L1217.0,652.4 L1218.0,653.5 L1219.0,654.6 L1220.0,655.7 L1221.0,656.8 L1222.0,657.9 L1223.0,659.0 L1224.0,660.1 L1225.0,661.2 L1226.0,662.3 L1227.0,663.4 L1228.0,664.5 L1229.0,665.6 L1230.0,666.7 L1231.0,667.8 L1232.0,668.9 L1233.0,670.0 L1234.0,671.1 L1235.0,672.2 L1236.0,673.3 L1237.0,674.4 L1238.0,675.5 L1239.0,676.6 L1240.0,677.7 L1241.0,678.8 L1242.0,679.9 L1243.0,681.0 L1244.0,682.1 L1245.0,683.2 L1246.0,684.3 L1247.0,685.4 L1248.0,686.5 L1249.0,687.6 L1250.0,688.7 L1251.0,689.8 L1252.0,690.9 L1253.0,692.0 L1254.0,693.1 L1255.0,694.1 L1256.0,695.2 L1257.0,696.3 L1258.0,697.4 L1259.0,698.5 L1260.0,699.6 L1261.0,700.7 L1262.0,701.8 L1263.0,702.9 L1264.0,704.0 L1265.0,705.0 L1266.0,706.1 L1267.0,707.2 L1268.0,708.3 L1269.0,709.4 L1270.0,710.4 L1271.0,711.5 L1272.0,712.6 L1273.0,713.7 L1274.0,714.8 L1275.0,715.8 L1276.0,716.9 L1277.0,718.0 L1278.0,719.0 L1279.0,720.1 L1280.0,721.2 L1281.0,722.2 L1282.0,723.3 L1283.0,724.4 L1284.0,725.4 L1285.0,726.5 L1286.0,727.6 L1287.0,728.6 L1288.0,729.7 L1289.0,730.7 L1290.0,731.8 L1291.0,732.8 L1292.0,733.9 L1293.0,734.9 L1294.0,736.0 L1295.0,737.0 L1296.0,738.1 L1297.0,739.1 L1298.0,740.1 L1299.0,741.2 L1300.0,742.2 L1301.0,743.2 L1302.0,744.3 L1303.0,745.3 L1304.0,746.3 L1305.0,747.4 L1306.0,748.4 L1307.0,749.4 L1308.0,750.4 L1309.0,751.4 L1310.0,752.4 L1311.0,753.5 L1312.0,754.5 L1313.0,755.5 L1314.0,756.5 L1315.0,757.5 L1316.0,758.5 L1317.0,759.5 L1318.0,760.5 L1319.0,761.5 L1320.0,762.5 L1321.0,763.4 L1322.0,764.4 L1323.0,765.4 L1324.0,766.4 L1325.0,767.4 L1326.0,768.3 L1327.0,769.3 L1328.0,770.3 L1329.0,771.3 L1330.0,772.2 L1331.0,773.2 L1332.0,774.1 L1333.0,775.1 L1334.0,776.1 L1335.0,777.0 L1336.0,778.0 L1337.0,778.9 L1338.0,779.8 L1339.0,780.8 L1340.0,781.7 L1341.0,782.7 L1342.0,783.6 L1343.0,784.5 L1344.0,785.5 L1345.0,786.4 L1346.0,787.3 L1347.0,788.2 L1348.0,789.2 L1349.0,790.1 L1350.0,791.0 L1351.0,791.9 L1352.0,792.8 L1353.0,793.7 L1354.0,794.6 L1355.0,795.5 L1356.0,796.4 L1357.0,797.3 L1358.0,798.2 L1359.0,799.1 L1360.0,800.0 L1361.0,800.9 L1362.0,801.7 L1363.0,802.6 L1364.0,803.5 L1365.0,804.4 L1366.0,805.2 L1367.0,806.1 L1368.0,807.0 L1369.0,807.8 L1370.0,808.7 L1371.0,809.6 L1372.0,810.4 L1373.0,811.3 L1374.0,812.1 L1375.0,813.0 L1376.0,813.8 L1377.0,814.6 L1378.0,815.5 L1379.0,816.3 L1380.0,817.2 L1381.0,818.0 L1382.0,818.8 L1383.0,819.6 L1384.0,820.5 L1385.0,821.3 L1386.0,822.1 L1387.0,822.9 L1388.0,823.7 L1389.0,824.5 L1390.0,825.3 L1391.0,826.1 L1392.0,826.9 L1393.0,827.7 L1394.0,828.5 L1395.0,829.3 L1396.0,830.1 L1397.0,830.9 L1398.0,831.7 L1399.0,832.5 L1400.0,833.2 L1401.0,834.0 L1402.0,834.8 L1403.0,835.6 L1404.0,836.3 L1405.0,837.1 L1406.0,837.8 L1407.0,838.6 L1408.0,839.4 L1409.0,840.1 L1410.0,840.9 L1411.0,841.6 L1412.0,842.3 L1413.0,843.1 L1414.0,843.8 L1415.0,844.6 L1416.0,845.3 L1417.0,846.0 L1418.0,846.7 L1419.0,847.5 L1420.0,848.2 L1421.0,848.9 L1422.0,849.6 L1423.0,850.3 L1424.0,851.0 L1425.0,851.8 L1426.0,852.5 L1427.0,853.2 L1428.0,853.9 L1429.0,854.5 L1430.0,855.2 L1431.0,855.9 L1432.0,856.6 L1433.0,857.3 L1434.0,858.0 L1435.0,858.6 L1436.0,859.3 L1437.0,860.0 L1438.0,860.7 L1439.0,861.3 L1440.0,862.0 L1441.0,862.6 L1442.0,863.3 L1443.0,864.0 L1444.0,864.6 L1445.0,865.2 L1446.0,865.9 L1447.0,866.5 L1448.0,867.2 L1449.0,867.8 L1450.0,868.4 L1451.0,869.1 L1452.0,869.7 L1453.0,870.3 L1454.0,870.9 L1455.0,871.5 L1456.0,872.2 L1457.0,872.8 L1458.0,873.4 L1459.0,874.0 L1460.0,874.6 L1461.0,875.2 L1462.0,875.8 L1463.0,876.4 L1464.0,877.0 L1465.0,877.5 L1466.0,878.1 L1467.0,878.7 L1468.0,879.3 L1469.0,879.9 L1470.0,880.4 L1471.0,881.0 L1472.0,881.6 L1473.0,882.1 L1474.0,882.7 L1475.0,883.2 L1476.0,883.8 L1477.0,884.3 L1478.0,884.9 L1479.0,885.4 L1480.0,885.9 L1481.0,886.5 L1482.0,887.0 L1483.0,887.5 L1484.0,888.1 L1485.0,888.6 L1486.0,889.1 L1487.0,889.6 L1488.0,890.1 L1489.0,890.7 L1490.0,891.2 L1491.0,891.7 L1492.0,892.2 L1493.0,892.7 L1494.0,893.2 L1495.0,893.7 L1496.0,894.2 L1497.0,894.6 L1498.0,895.1 L1499.0,895.6 L1500.0,896.1 L1501.0,896.6 L1502.0,897.0 L1503.0,897.5 L1504.0,898.0 L1505.0,898.4 L1506.0,898.9 L1507.0,899.4 L1508.0,899.8 L1509.0,900.3 L1510.0,900.7 L1511.0,901.2 L1512.0,901.6 L1513.0,902.1 L1514.0,902.5 L1515.0,902.9 L1516.0,903.4 L1517.0,903.8 L1518.0,904.2 L1519.0,904.7 L1520.0,905.1 L1521.0,905.5 L1522.0,905.9 L1523.0,906.3 L1524.0,906.7 L1525.0,907.2 L1526.0,907.6 L1527.0,908.0 L1528.0,908.4 L1529.0,908.8 L1530.0,909.2 L1531.0,909.6 L1532.0,910.0 L1533.0,910.4 L1534.0,910.8 L1535.0,911.1 L1536.0,911.5 L1537.0,911.9 L1538.0,912.3 L1539.0,912.7 L1540.0,913.0 L1541.0,913.4 L1542.0,913.8 L1543.0,914.2 L1544.0,914.5 L1545.0,914.9 L1546.0,915.2 L1547.0,915.6 L1548.0,916.0 L1549.0,916.3 L1550.0,916.7 L1551.0,917.0 L1552.0,917.4 L1553.0,917.7 L1554.0,918.1 L1555.0,918.4 L1556.0,918.7 L1557.0,919.1 L1558.0,919.4 L1559.0,919.8 L1560.0,920.1 L1561.0,920.4 L1562.0,920.8 L1563.0,921.1 L1564.0,921.4 L1565.0,921.7 L1566.0,922.0 L1567.0,922.4 L1568.0,922.7 L1569.0,923.0 L1570.0,923.3 L1571.0,923.6 L1572.0,923.9 L1573.0,924.2 L1574.0,924.5 L1575.0,924.8 L1576.0,925.1 L1577.0,925.4 L1578.0,925.7 L1579.0,926.0 L1580.0,926.3 L1581.0,926.6 L1582.0,926.9 L1583.0,927.2 L1584.0,927.5 L1585.0,927.8 L1586.0,928.1 L1587.0,928.3 L1588.0,928.6 L1589.0,928.9 L1590.0,929.2 L1591.0,929.5 L1592.0,929.7 L1593.0,930.0 L1594.0,930.3 L1595.0,930.6 L1596.0,930.8 L1597.0,931.1 L1598.0,931.4 L1599.0,931.6 L1600.0,931.9 L1601.0,932.1 L1602.0,932.4 L1603.0,932.7 L1604.0,932.9 L1605.0,933.2 L1606.0,933.4 L1607.0,933.7 L1608.0,933.9 L1609.0,934.2 L1610.0,934.4 L1611.0,934.7 L1612.0,934.9 L1613.0,935.2 L1614.0,935.4 L1615.0,935.6 L1616.0,935.9 L1617.0,936.1 L1618.0,936.4 L1619.0,936.6 L1620.0,936.8 L1621.0,937.1 L1622.0,937.3 L1623.0,937.5 L1624.0,937.8 L1625.0,938.0 L1626.0,938.2 L1627.0,938.5 L1628.0,938.7 L1629.0,938.9 L1630.0,939.1 L1631.0,939.4 L1632.0,939.6 L1633.0,939.8 L1634.0,940.0 L1635.0,940.2 L1636.0,940.5 L1637.0,940.7 L1638.0,940.9 L1639.0,941.1 L1640.0,941.3 L1641.0,941.5 L1642.0,941.8 L1643.0,942.0 L1644.0,942.2 L1645.0,942.4 L1646.0,942.6 L1647.0,942.8 L1648.0,943.0 L1649.0,943.2 L1650.0,943.4 L1651.0,943.6 L1652.0,943.8 L1653.0,944.0 L1654.0,944.3 L1655.0,944.5 L1656.0,944.7 L1657.0,944.9 L1658.0,945.1 L1659.0,945.3 L1660.0,945.5 L1661.0,945.7 L1662.0,945.9 L1663.0,946.1 L1664.0,946.3 L1665.0,946.4 L1666.0,946.6 L1667.0,946.8 L1668.0,947.0 L1669.0,947.2 L1670.0,947.4 L1671.0,947.6 L1672.0,947.8 L1673.0,948.0 L1674.0,948.2 L1675.0,948.4 L1676.0,948.6 L1677.0,948.8 L1678.0,949.0 L1679.0,949.1 L1680.0,949.3 L1681.0,949.5 L1682.0,949.7 L1683.0,949.9 L1684.0,950.1 L1685.0,950.3 L1686.0,950.5 L1687.0,950.6 L1688.0,950.8 L1689.0,951.0 L1690.0,951.2 L1691.0,951.4 L1692.0,951.6 L1693.0,951.8 L1694.0,951.9 L1695.0,952.1 L1696.0,952.3 L1697.0,952.5 L1698.0,952.7 L1699.0,952.8 L1700.0,953.0 L1701.0,953.2 L1702.0,953.4 L1703.0,953.6 L1704.0,953.7 L1705.0,953.9 L1706.0,954.1 L1707.0,954.3 L1708.0,954.5 L1709.0,954.6 L1710.0,954.8 L1711.0,955.0 L1712.0,955.2 L1713.0,955.4 L1714.0,955.5 L1715.0,955.7 L1716.0,955.9 L1717.0,956.1 L1718.0,956.2 L1719.0,956.4 L1720.0,956.6 L1721.0,956.8 L1722.0,956.9 L1723.0,957.1 L1724.0,957.3 L1725.0,957.5 L1726.0,957.6 L1727.0,957.8 L1728.0,958.0 L1729.0,958.2 L1730.0,958.3 L1731.0,958.5 L1732.0,958.7 L1733.0,958.8 L1734.0,959.0 L1735.0,959.2 L1736.0,959.4 L1737.0,959.5 L1738.0,959.7 L1739.0,959.9 L1740.0,960.0 L1741.0,960.2 L1742.0,960.4 L1743.0,960.6 L1744.0,960.7 L1745.0,960.9 L1746.0,961.1 L1747.0,961.2 L1748.0,961.4 L1749.0,961.6 L1750.0,961.8 L1751.0,961.9 L1752.0,962.1 L1753.0,962.3 L1754.0,962.4 L1755.0,962.6 L1756.0,962.8 L1757.0,963.0 L1758.0,963.1 L1759.0,963.3 L1760.0,963.5 L1761.0,963.6 L1762.0,963.8 L1763.0,964.0 L1764.0,964.2 L1765.0,964.3 L1766.0,964.5 L1767.0,964.7 L1768.0,964.8 L1769.0,965.0 L1770.0,965.2 L1771.0,965.4 L1772.0,965.5 L1773.0,965.7 L1774.0,965.9 L1775.0,966.0 L1776.0,966.2 L1777.0,966.4 L1778.0,966.6 L1779.0,966.7 L1780.0,966.9 L1781.0,967.1 L1782.0,967.2 L1783.0,967.4 L1784.0,967.6 L1785.0,967.8 L1786.0,967.9 L1787.0,968.1 L1788.0,968.3 L1789.0,968.5 L1790.0,968.6 L1791.0,968.8 L1792.0,969.0 L1793.0,969.2 L1794.0,969.3 L1795.0,969.5 L1796.0,969.7 L1797.0,969.9 L1798.0,970.0 L1799.0,970.2 L1800.0,970.4 L1801.0,970.6 L1802.0,970.7 L1803.0,970.9 L1804.0,971.1 L1805.0,971.3 L1806.0,971.4 L1807.0,971.6 L1808.0,971.8 L1809.0,972.0 L1810.0,972.2 L1811.0,972.3 L1812.0,972.5 L1813.0,972.7 L1814.0,972.9 L1815.0,973.0 L1816.0,973.2 L1817.0,973.4 L1818.0,973.6 L1819.0,973.8 L1820.0,974.0 L1821.0,974.1 L1822.0,974.3 L1823.0,974.5 L1824.0,974.7 L1825.0,974.9 L1826.0,975.1 L1827.0,975.2 L1828.0,975.4 L1829.0,975.6 L1830.0,975.8 L1831.0,976.0 L1832.0,976.2 L1833.0,976.4 L1834.0,976.5 L1835.0,976.7 L1836.0,976.9 L1837.0,977.1 L1838.0,977.3 L1839.0,977.5 L1840.0,977.7 L1841.0,977.9 L1842.0,978.1 L1843.0,978.3 L1844.0,978.4 L1845.0,978.6 L1846.0,978.8 L1847.0,979.0 L1848.0,979.2 L1849.0,979.4 L1850.0,979.6 L1851.0,979.8 L1852.0,980.0 L1853.0,980.2 L1854.0,980.4 L1855.0,980.6 L1856.0,980.8 L1857.0,981.0 L1858.0,981.2 L1859.0,981.4 L1860.0,981.6 L1861.0,981.8 L1862.0,982.0 L1863.0,982.2 L1864.0,982.4 L1865.0,982.6 L1866.0,982.8 L1867.0,983.0 L1868.0,983.2 L1869.0,983.4 L1870.0,983.6 L1871.0,983.8 L1872.0,984.1 L1873.0,984.3 L1874.0,984.5 L1875.0,984.7 L1876.0,984.9 L1877.0,985.1 L1878.0,985.3 L1879.0,985.5 L1880.0,985.7 L1881.0,986.0 L1882.0,986.2 L1883.0,986.4 L1884.0,986.6 L1885.0,986.8 L1886.0,987.0 L1887.0,987.3 L1888.0,987.5 L1889.0,987.7 L1890.0,987.9 L1891.0,988.1 L1891.7,988.3" fill="none" stroke="#FF4040" stroke-width="8.6" stroke-linejoin="round" stroke-linecap="round"/>
<path d="M364.0,100.7 L365.0,100.1 L366.0,99.6 L367.0,99.3 L368.0,98.9 L369.0,98.7 L370.0,98.5 L371.0,98.4 L372.0,98.4 L373.0,98.5 L374.0,98.6 L375.0,98.8 L376.0,99.1 L377.0,99.4 L378.0,99.8 L379.0,100.2 L380.0,100.7 L381.0,101.3 L382.0,101.9 L383.0,102.5 L384.0,103.3 L385.0,104.0 L386.0,104.8 L387.0,105.7 L388.0,106.6 L389.0,107.5 L390.0,108.5 L391.0,109.5 L392.0,110.6 L393.0,111.6 L394.0,112.8 L395.0,113.9 L396.0,115.1 L397.0,116.3 L398.0,117.5 L399.0,118.8 L400.0,120.0 L401.0,121.3 L402.0,122.6 L403.0,123.9 L404.0,125.3 L405.0,126.6 L406.0,128.0 L407.0,129.4 L408.0,130.7 L409.0,132.1 L410.0,133.5 L411.0,134.9 L412.0,136.2 L413.0,137.6 L414.0,139.0 L415.0,140.4 L416.0,141.7 L417.0,143.1 L418.0,144.4 L419.0,145.7 L420.0,147.0 L421.0,148.3 L422.0,149.6 L423.0,150.9 L424.0,152.2 L425.0,153.4 L426.0,154.7 L427.0,155.9 L428.0,157.2 L429.0,158.4 L430.0,159.6 L431.0,160.8 L432.0,162.0 L433.0,163.2 L434.0,164.3 L435.0,165.5 L436.0,166.6 L437.0,167.8 L438.0,168.9 L439.0,170.0 L440.0,171.1 L441.0,172.2 L442.0,173.3 L443.0,174.3 L444.0,175.4 L445.0,176.4 L446.0,177.5 L447.0,178.5 L448.0,179.5 L449.0,180.5 L450.0,181.5 L451.0,182.5 L452.0,183.5 L453.0,184.5 L454.0,185.4 L455.0,186.3 L456.0,187.3 L457.0,188.2 L458.0,189.1 L459.0,190.0 L460.0,190.9 L461.0,191.8 L462.0,192.6 L463.0,193.5 L464.0,194.3 L465.0,195.2 L466.0,196.0 L467.0,196.8 L468.0,197.6 L469.0,198.4 L470.0,199.2 L471.0,199.9 L472.0,200.7 L473.0,201.4 L474.0,202.2 L475.0,202.9 L476.0,203.6 L477.0,204.3 L478.0,205.0 L479.0,205.7 L480.0,206.3 L481.0,207.0 L482.0,207.6 L483.0,208.3 L484.0,208.9 L485.0,209.5 L486.0,210.1 L487.0,210.7 L488.0,211.3 L489.0,211.9 L490.0,212.4 L491.0,213.0 L492.0,213.5 L493.0,214.1 L494.0,214.6 L495.0,215.1 L496.0,215.6 L497.0,216.1 L498.0,216.6 L499.0,217.1 L500.0,217.5 L501.0,218.0 L502.0,218.4 L503.0,218.9 L504.0,219.3 L505.0,219.7 L506.0,220.2 L507.0,220.6 L508.0,221.0 L509.0,221.4 L510.0,221.7 L511.0,222.1 L512.0,222.5 L513.0,222.8 L514.0,223.2 L515.0,223.5 L516.0,223.9 L517.0,224.2 L518.0,224.5 L519.0,224.8 L520.0,225.1 L521.0,225.4 L522.0,225.7 L523.0,226.0 L524.0,226.3 L525.0,226.6 L526.0,226.8 L527.0,227.1 L528.0,227.4 L529.0,227.6 L530.0,227.8 L531.0,228.1 L532.0,228.3 L533.0,228.5 L534.0,228.7 L535.0,229.0 L536.0,229.2 L537.0,229.4 L538.0,229.6 L539.0,229.8 L540.0,229.9 L541.0,230.1 L542.0,230.3 L543.0,230.5 L544.0,230.6 L545.0,230.8 L546.0,231.0 L547.0,231.1 L548.0,231.3 L549.0,231.4 L550.0,231.6 L551.0,231.7 L552.0,231.8 L553.0,232.0 L554.0,232.1 L555.0,232.2 L556.0,232.3 L557.0,232.4 L558.0,232.5 L559.0,232.7 L560.0,232.8 L561.0,232.9 L562.0,233.0 L563.0,233.1 L564.0,233.2 L565.0,233.2 L566.0,233.3 L567.0,233.4 L568.0,233.5 L569.0,233.6 L570.0,233.7 L571.0,233.8 L572.0,233.8 L573.0,233.9 L574.0,234.0 L575.0,234.0 L576.0,234.1 L577.0,234.2 L578.0,234.3 L579.0,234.3 L580.0,234.4 L581.0,234.5 L582.0,234.5 L583.0,234.6 L584.0,234.6 L585.0,234.7 L586.0,234.8 L587.0,234.8 L588.0,234.9 L589.0,234.9 L590.0,235.0 L591.0,235.1 L592.0,235.1 L593.0,235.2 L594.0,235.3 L595.0,235.3 L596.0,235.4 L597.0,235.4 L598.0,235.5 L599.0,235.6 L600.0,235.6 L601.0,235.7 L602.0,235.8 L603.0,235.8 L604.0,235.9 L605.0,236.0 L606.0,236.1 L607.0,236.1 L608.0,236.2 L609.0,236.3 L610.0,236.4 L611.0,236.5 L612.0,236.5 L613.0,236.6 L614.0,236.7 L615.0,236.8 L616.0,236.9 L617.0,237.0 L618.0,237.1 L619.0,237.2 L620.0,237.3 L621.0,237.4 L622.0,237.5 L623.0,237.6 L624.0,237.8 L625.0,237.9 L626.0,238.0 L627.0,238.1 L628.0,238.3 L629.0,238.4 L630.0,238.5 L631.0,238.7 L632.0,238.8 L633.0,239.0 L634.0,239.1 L635.0,239.3 L636.0,239.5 L637.0,239.6 L638.0,239.8 L639.0,239.9 L640.0,240.1 L641.0,240.3 L642.0,240.5 L643.0,240.6 L644.0,240.8 L645.0,241.0 L646.0,241.2 L647.0,241.4 L648.0,241.6 L649.0,241.8 L650.0,242.0 L651.0,242.2 L652.0,242.4 L653.0,242.6 L654.0,242.8 L655.0,243.0 L656.0,243.2 L657.0,243.4 L658.0,243.6 L659.0,243.9 L660.0,244.1 L661.0,244.3 L662.0,244.5 L663.0,244.7 L664.0,245.0 L665.0,245.2 L666.0,245.4 L667.0,245.7 L668.0,245.9 L669.0,246.2 L670.0,246.4 L671.0,246.6 L672.0,246.9 L673.0,247.1 L674.0,247.4 L675.0,247.6 L676.0,247.9 L677.0,248.1 L678.0,248.4 L679.0,248.6 L680.0,248.9 L681.0,249.2 L682.0,249.4 L683.0,249.7 L684.0,249.9 L685.0,250.2 L686.0,250.5 L687.0,250.7 L688.0,251.0 L689.0,251.3 L690.0,251.6 L691.0,251.8 L692.0,252.1 L693.0,252.4 L694.0,252.6 L695.0,252.9 L696.0,253.2 L697.0,253.5 L698.0,253.8 L699.0,254.0 L700.0,254.3 L701.0,254.6 L702.0,254.9 L703.0,255.2 L704.0,255.4 L705.0,255.7 L706.0,256.0 L707.0,256.3 L708.0,256.6 L709.0,256.9 L710.0,257.2 L711.0,257.4 L712.0,257.7 L713.0,258.0 L714.0,258.3 L715.0,258.6 L716.0,258.9 L717.0,259.2 L718.0,259.4 L719.0,259.7 L720.0,260.0 L721.0,260.3 L722.0,260.6 L723.0,260.9 L724.0,261.2 L725.0,261.5 L726.0,261.7 L727.0,262.0 L728.0,262.3 L729.0,262.6 L730.0,262.9 L731.0,263.2 L732.0,263.5 L733.0,263.8 L734.0,264.0 L735.0,264.3 L736.0,264.6 L737.0,264.9 L738.0,265.2 L739.0,265.5 L740.0,265.7 L741.0,266.0 L742.0,266.3 L743.0,266.6 L744.0,266.9 L745.0,267.1 L746.0,267.4 L747.0,267.7 L748.0,268.0 L749.0,268.3 L750.0,268.5 L751.0,268.8 L752.0,269.1 L753.0,269.4 L754.0,269.6 L755.0,269.9 L756.0,270.2 L757.0,270.5 L758.0,270.8 L759.0,271.0 L760.0,271.3 L761.0,271.6 L762.0,271.9 L763.0,272.1 L764.0,272.4 L765.0,272.7 L766.0,273.0 L767.0,273.2 L768.0,273.5 L769.0,273.8 L770.0,274.1 L771.0,274.3 L772.0,274.6 L773.0,274.9 L774.0,275.1 L775.0,275.4 L776.0,275.7 L777.0,276.0 L778.0,276.2 L779.0,276.5 L780.0,276.8 L781.0,277.1 L782.0,277.3 L783.0,277.6 L784.0,277.9 L785.0,278.2 L786.0,278.4 L787.0,278.7 L788.0,279.0 L789.0,279.2 L790.0,279.5 L791.0,279.8 L792.0,280.1 L793.0,280.3 L794.0,280.6 L795.0,280.9 L796.0,281.2 L797.0,281.4 L798.0,281.7 L799.0,282.0 L800.0,282.3 L801.0,282.5 L802.0,282.8 L803.0,283.1 L804.0,283.4 L805.0,283.7 L806.0,283.9 L807.0,284.2 L808.0,284.5 L809.0,284.8 L810.0,285.0 L811.0,285.3 L812.0,285.6 L813.0,285.9 L814.0,286.2 L815.0,286.4 L816.0,286.7 L817.0,287.0 L818.0,287.3 L819.0,287.6 L820.0,287.8 L821.0,288.1 L822.0,288.4 L823.0,288.7 L824.0,289.0 L825.0,289.3 L826.0,289.5 L827.0,289.8 L828.0,290.1 L829.0,290.4 L830.0,290.7 L831.0,291.0 L832.0,291.3 L833.0,291.5 L834.0,291.8 L835.0,292.1 L836.0,292.4 L837.0,292.7 L838.0,293.0 L839.0,293.3 L840.0,293.6 L841.0,293.9 L842.0,294.2 L843.0,294.5 L844.0,294.8 L845.0,295.1 L846.0,295.4 L847.0,295.7 L848.0,295.9 L849.0,296.2 L850.0,296.5 L851.0,296.8 L852.0,297.1 L853.0,297.5 L854.0,297.8 L855.0,298.1 L856.0,298.4 L857.0,298.7 L858.0,299.0 L859.0,299.3 L860.0,299.6 L861.0,299.9 L862.0,300.2 L863.0,300.5 L864.0,300.8 L865.0,301.1 L866.0,301.5 L867.0,301.8 L868.0,302.1 L869.0,302.4 L870.0,302.7 L871.0,303.0 L872.0,303.4 L873.0,303.7 L874.0,304.0 L875.0,304.3 L876.0,304.6 L877.0,305.0 L878.0,305.3 L879.0,305.6 L880.0,306.0 L881.0,306.3 L882.0,306.6 L883.0,307.0 L884.0,307.3 L885.0,307.6 L886.0,308.0 L887.0,308.3 L888.0,308.6 L889.0,309.0 L890.0,309.3 L891.0,309.7 L892.0,310.0 L893.0,310.4 L894.0,310.7 L895.0,311.1 L896.0,311.4 L897.0,311.8 L898.0,312.1 L899.0,312.5 L900.0,312.8 L901.0,313.2 L902.0,313.6 L903.0,313.9 L904.0,314.3 L905.0,314.7 L906.0,315.0 L907.0,315.4 L908.0,315.8 L909.0,316.1 L910.0,316.5 L911.0,316.9 L912.0,317.3 L913.0,317.7 L914.0,318.0 L915.0,318.4 L916.0,318.8 L917.0,319.2 L918.0,319.6 L919.0,320.0 L920.0,320.4 L921.0,320.8 L922.0,321.2 L923.0,321.6 L924.0,322.0 L925.0,322.4 L926.0,322.8 L927.0,323.2 L928.0,323.6 L929.0,324.0 L930.0,324.5 L931.0,324.9 L932.0,325.3 L933.0,325.7 L934.0,326.1 L935.0,326.6 L936.0,327.0 L937.0,327.4 L938.0,327.9 L939.0,328.3 L940.0,328.7 L941.0,329.2 L942.0,329.6 L943.0,330.1 L944.0,330.5 L945.0,331.0 L946.0,331.4 L947.0,331.9 L948.0,332.3 L949.0,332.8 L950.0,333.3 L951.0,333.7 L952.0,334.2 L953.0,334.7 L954.0,335.2 L955.0,335.6 L956.0,336.1 L957.0,336.6 L958.0,337.1 L959.0,337.6 L960.0,338.1 L961.0,338.5 L962.0,339.0 L963.0,339.5 L964.0,340.0 L965.0,340.6 L966.0,341.1 L967.0,341.6 L968.0,342.1 L969.0,342.6 L970.0,343.1 L971.0,343.6 L972.0,344.2 L973.0,344.7 L974.0,345.2 L975.0,345.8 L976.0,346.3 L977.0,346.8 L978.0,347.4 L979.0,347.9 L980.0,348.5 L981.0,349.0 L982.0,349.6 L983.0,350.1 L984.0,350.7 L985.0,351.3 L986.0,351.8 L987.0,352.4 L988.0,353.0 L989.0,353.6 L990.0,354.1 L991.0,354.7 L992.0,355.3 L993.0,355.9 L994.0,356.5 L995.0,357.1 L996.0,357.7 L997.0,358.3 L998.0,358.9 L999.0,359.5 L1000.0,360.1 L1001.0,360.7 L1002.0,361.3 L1003.0,362.0 L1004.0,362.6 L1005.0,363.2 L1006.0,363.8 L1007.0,364.5 L1008.0,365.1 L1009.0,365.7 L1010.0,366.4 L1011.0,367.0 L1012.0,367.6 L1013.0,368.3 L1014.0,368.9 L1015.0,369.6 L1016.0,370.2 L1017.0,370.9 L1018.0,371.5 L1019.0,372.2 L1020.0,372.8 L1021.0,373.5 L1022.0,374.2 L1023.0,374.8 L1024.0,375.5 L1025.0,376.2 L1026.0,376.8 L1027.0,377.5 L1028.0,378.2 L1029.0,378.9 L1030.0,379.5 L1031.0,380.2 L1032.0,380.9 L1033.0,381.6 L1034.0,382.3 L1035.0,382.9 L1036.0,383.6 L1037.0,384.3 L1038.0,385.0 L1039.0,385.7 L1040.0,386.4 L1041.0,387.1 L1042.0,387.8 L1043.0,388.5 L1044.0,389.2 L1045.0,389.9 L1046.0,390.6 L1047.0,391.3 L1048.0,392.0 L1049.0,392.7 L1050.0,393.4 L1051.0,394.1 L1052.0,394.8 L1053.0,395.5 L1054.0,396.2 L1055.0,396.9 L1056.0,397.7 L1057.0,398.4 L1058.0,399.1 L1059.0,399.8 L1060.0,400.5 L1061.0,401.2 L1062.0,401.9 L1063.0,402.7 L1064.0,403.4 L1065.0,404.1 L1066.0,404.8 L1067.0,405.5 L1068.0,406.2 L1069.0,407.0 L1070.0,407.7 L1071.0,408.4 L1072.0,409.1 L1073.0,409.9 L1074.0,410.6 L1075.0,411.3 L1076.0,412.0 L1077.0,412.7 L1078.0,413.5 L1079.0,414.2 L1080.0,414.9 L1081.0,415.6 L1082.0,416.4 L1083.0,417.1 L1084.0,417.8 L1085.0,418.5 L1086.0,419.3 L1087.0,420.0 L1088.0,420.7 L1089.0,421.4 L1090.0,422.2 L1091.0,422.9 L1092.0,423.6 L1093.0,424.3 L1094.0,425.0 L1095.0,425.8 L1096.0,426.5 L1097.0,427.2 L1098.0,427.9 L1099.0,428.6 L1100.0,429.4 L1101.0,430.1 L1102.0,430.8 L1103.0,431.5 L1104.0,432.2 L1105.0,432.9 L1106.0,433.7 L1107.0,434.4 L1108.0,435.1 L1109.0,435.8 L1110.0,436.5 L1111.0,437.2 L1112.0,437.9 L1113.0,438.7 L1114.0,439.4 L1115.0,440.1 L1116.0,440.8 L1117.0,441.5 L1118.0,442.2 L1119.0,442.9 L1120.0,443.6 L1121.0,444.3 L1122.0,445.0 L1123.0,445.7 L1124.0,446.4 L1125.0,447.1 L1126.0,447.8 L1127.0,448.5 L1128.0,449.2 L1129.0,449.9 L1130.0,450.6 L1131.0,451.3 L1132.0,452.0 L1133.0,452.7 L1134.0,453.4 L1135.0,454.1 L1136.0,454.8 L1137.0,455.5 L1138.0,456.2 L1139.0,456.9 L1140.0,457.6 L1141.0,458.3 L1142.0,459.0 L1143.0,459.7 L1144.0,460.4 L1145.0,461.1 L1146.0,461.7 L1147.0,462.4 L1148.0,463.1 L1149.0,463.8 L1150.0,464.5 L1151.0,465.2 L1152.0,465.9 L1153.0,466.6 L1154.0,467.3 L1155.0,468.0 L1156.0,468.6 L1157.0,469.3 L1158.0,470.0 L1159.0,470.7 L1160.0,471.4 L1161.0,472.1 L1162.0,472.8 L1163.0,473.5 L1164.0,474.1 L1165.0,474.8 L1166.0,475.5 L1167.0,476.2 L1168.0,476.9 L1169.0,477.6 L1170.0,478.3 L1171.0,478.9 L1172.0,479.6 L1173.0,480.3 L1174.0,481.0 L1175.0,481.7 L1176.0,482.4 L1177.0,483.1 L1178.0,483.7 L1179.0,484.4 L1180.0,485.1 L1181.0,485.8 L1182.0,486.5 L1183.0,487.2 L1184.0,487.9 L1185.0,488.5 L1186.0,489.2 L1187.0,489.9 L1188.0,490.6 L1189.0,491.3 L1190.0,492.0 L1191.0,492.7 L1192.0,493.3 L1193.0,494.0 L1194.0,494.7 L1195.0,495.4 L1196.0,496.1 L1197.0,496.8 L1198.0,497.5 L1199.0,498.1 L1200.0,498.8 L1201.0,499.5 L1202.0,500.2 L1203.0,500.9 L1204.0,501.6 L1205.0,502.3 L1206.0,503.0 L1207.0,503.6 L1208.0,504.3 L1209.0,505.0 L1210.0,505.7 L1211.0,506.4 L1212.0,507.1 L1213.0,507.8 L1214.0,508.5 L1215.0,509.2 L1216.0,509.9 L1217.0,510.5 L1218.0,511.2 L1219.0,511.9 L1220.0,512.6 L1221.0,513.3 L1222.0,514.0 L1223.0,514.7 L1224.0,515.4 L1225.0,516.1 L1226.0,516.8 L1227.0,517.5 L1228.0,518.2 L1229.0,518.9 L1230.0,519.6 L1231.0,520.3 L1232.0,521.0 L1233.0,521.7 L1234.0,522.4 L1235.0,523.1 L1236.0,523.8 L1237.0,524.5 L1238.0,525.2 L1239.0,525.9 L1240.0,526.6 L1241.0,527.3 L1242.0,528.0 L1243.0,528.7 L1244.0,529.4 L1245.0,530.1 L1246.0,530.8 L1247.0,531.5 L1248.0,532.2 L1249.0,532.9 L1250.0,533.6 L1251.0,534.3 L1252.0,535.1 L1253.0,535.8 L1254.0,536.5 L1255.0,537.2 L1256.0,537.9 L1257.0,538.6 L1258.0,539.3 L1259.0,540.0 L1260.0,540.7 L1261.0,541.5 L1262.0,542.2 L1263.0,542.9 L1264.0,543.6 L1265.0,544.3 L1266.0,545.0 L1267.0,545.8 L1268.0,546.5 L1269.0,547.2 L1270.0,547.9 L1271.0,548.6 L1272.0,549.3 L1273.0,550.0 L1274.0,550.8 L1275.0,551.5 L1276.0,552.2 L1277.0,552.9 L1278.0,553.6 L1279.0,554.3 L1280.0,555.1 L1281.0,555.8 L1282.0,556.5 L1283.0,557.2 L1284.0,557.9 L1285.0,558.6 L1286.0,559.4 L1287.0,560.1 L1288.0,560.8 L1289.0,561.5 L1290.0,562.2 L1291.0,562.9 L1292.0,563.7 L1293.0,564.4 L1294.0,565.1 L1295.0,565.8 L1296.0,566.5 L1297.0,567.2 L1298.0,567.9 L1299.0,568.7 L1300.0,569.4 L1301.0,570.1 L1302.0,570.8 L1303.0,571.5 L1304.0,572.2 L1305.0,572.9 L1306.0,573.6 L1307.0,574.3 L1308.0,575.0 L1309.0,575.8 L1310.0,576.5 L1311.0,577.2 L1312.0,577.9 L1313.0,578.6 L1314.0,579.3 L1315.0,580.0 L1316.0,580.7 L1317.0,581.4 L1318.0,582.1 L1319.0,582.8 L1320.0,583.5 L1321.0,584.2 L1322.0,584.9 L1323.0,585.6 L1324.0,586.3 L1325.0,587.0 L1326.0,587.7 L1327.0,588.4 L1328.0,589.1 L1329.0,589.8 L1330.0,590.5 L1331.0,591.1 L1332.0,591.8 L1333.0,592.5 L1334.0,593.2 L1335.0,593.9 L1336.0,594.6 L1337.0,595.3 L1338.0,595.9 L1339.0,596.6 L1340.0,597.3 L1341.0,598.0 L1342.0,598.7 L1343.0,599.3 L1344.0,600.0 L1345.0,600.7 L1346.0,601.4 L1347.0,602.0 L1348.0,602.7 L1349.0,603.4 L1350.0,604.0 L1351.0,604.7 L1352.0,605.4 L1353.0,606.0 L1354.0,606.7 L1355.0,607.4 L1356.0,608.0 L1357.0,608.7 L1358.0,609.3 L1359.0,610.0 L1360.0,610.6 L1361.0,611.3 L1362.0,611.9 L1363.0,612.6 L1364.0,613.2 L1365.0,613.9 L1366.0,614.5 L1367.0,615.2 L1368.0,615.8 L1369.0,616.5 L1370.0,617.1 L1371.0,617.7 L1372.0,618.4 L1373.0,619.0 L1374.0,619.6 L1375.0,620.2 L1376.0,620.9 L1377.0,621.5 L1378.0,622.1 L1379.0,622.7 L1380.0,623.4 L1381.0,624.0 L1382.0,624.6 L1383.0,625.2 L1384.0,625.8 L1385.0,626.4 L1386.0,627.0 L1387.0,627.6 L1388.0,628.2 L1389.0,628.8 L1390.0,629.4 L1391.0,630.0 L1392.0,630.6 L1393.0,631.2 L1394.0,631.8 L1395.0,632.4 L1396.0,633.0 L1397.0,633.5 L1398.0,634.1 L1399.0,634.7 L1400.0,635.3 L1401.0,635.9 L1402.0,636.4 L1403.0,637.0 L1404.0,637.6 L1405.0,638.1 L1406.0,638.7 L1407.0,639.2 L1408.0,639.8 L1409.0,640.4 L1410.0,640.9 L1411.0,641.5 L1412.0,642.0 L1413.0,642.6 L1414.0,643.1 L1415.0,643.6 L1416.0,644.2 L1417.0,644.7 L1418.0,645.3 L1419.0,645.8 L1420.0,646.3 L1421.0,646.9 L1422.0,647.4 L1423.0,647.9 L1424.0,648.4 L1425.0,649.0 L1426.0,649.5 L1427.0,650.0 L1428.0,650.5 L1429.0,651.0 L1430.0,651.5 L1431.0,652.0 L1432.0,652.6 L1433.0,653.1 L1434.0,653.6 L1435.0,654.1 L1436.0,654.6 L1437.0,655.1 L1438.0,655.6 L1439.0,656.0 L1440.0,656.5 L1441.0,657.0 L1442.0,657.5 L1443.0,658.0 L1444.0,658.5 L1445.0,659.0 L1446.0,659.4 L1447.0,659.9 L1448.0,660.4 L1449.0,660.9 L1450.0,661.3 L1451.0,661.8 L1452.0,662.3 L1453.0,662.7 L1454.0,663.2 L1455.0,663.6 L1456.0,664.1 L1457.0,664.6 L1458.0,665.0 L1459.0,665.5 L1460.0,665.9 L1461.0,666.4 L1462.0,666.8 L1463.0,667.3 L1464.0,667.7 L1465.0,668.1 L1466.0,668.6 L1467.0,669.0 L1468.0,669.5 L1469.0,669.9 L1470.0,670.3 L1471.0,670.7 L1472.0,671.2 L1473.0,671.6 L1474.0,672.0 L1475.0,672.4 L1476.0,672.9 L1477.0,673.3 L1478.0,673.7 L1479.0,674.1 L1480.0,674.5 L1481.0,674.9 L1482.0,675.3 L1483.0,675.7 L1484.0,676.1 L1485.0,676.5 L1486.0,676.9 L1487.0,677.3 L1488.0,677.7 L1489.0,678.1 L1490.0,678.5 L1491.0,678.9 L1492.0,679.3 L1493.0,679.7 L1494.0,680.1 L1495.0,680.5 L1496.0,680.9 L1497.0,681.2 L1498.0,681.6 L1499.0,682.0 L1500.0,682.4 L1501.0,682.7 L1502.0,683.1 L1503.0,683.5 L1504.0,683.8 L1505.0,684.2 L1506.0,684.6 L1507.0,684.9 L1508.0,685.3 L1509.0,685.7 L1510.0,686.0 L1511.0,686.4 L1512.0,686.7 L1513.0,687.1 L1514.0,687.4 L1515.0,687.8 L1516.0,688.1 L1517.0,688.5 L1518.0,688.8 L1519.0,689.2 L1520.0,689.5 L1521.0,689.8 L1522.0,690.2 L1523.0,690.5 L1524.0,690.8 L1525.0,691.2 L1526.0,691.5 L1527.0,691.8 L1528.0,692.1 L1529.0,692.5 L1530.0,692.8 L1531.0,693.1 L1532.0,693.4 L1533.0,693.8 L1534.0,694.1 L1535.0,694.4 L1536.0,694.7 L1537.0,695.0 L1538.0,695.3 L1539.0,695.6 L1540.0,695.9 L1541.0,696.2 L1542.0,696.5 L1543.0,696.8 L1544.0,697.1 L1545.0,697.4 L1546.0,697.7 L1547.0,698.0 L1548.0,698.3 L1549.0,698.6 L1550.0,698.9 L1551.0,699.2 L1552.0,699.5 L1553.0,699.8 L1554.0,700.0 L1555.0,700.3 L1556.0,700.6 L1557.0,700.9 L1558.0,701.2 L1559.0,701.4 L1560.0,701.7 L1561.0,702.0 L1562.0,702.3 L1563.0,702.5 L1564.0,702.8 L1565.0,703.1 L1566.0,703.3 L1567.0,703.6 L1568.0,703.8 L1569.0,704.1 L1570.0,704.4 L1571.0,704.6 L1572.0,704.9 L1573.0,705.1 L1574.0,705.4 L1575.0,705.6 L1576.0,705.9 L1577.0,706.1 L1578.0,706.4 L1579.0,706.6 L1580.0,706.9 L1581.0,707.1 L1582.0,707.4 L1583.0,707.6 L1584.0,707.8 L1585.0,708.1 L1586.0,708.3 L1587.0,708.5 L1588.0,708.8 L1589.0,709.0 L1590.0,709.2 L1591.0,709.5 L1592.0,709.7 L1593.0,709.9 L1594.0,710.1 L1595.0,710.4 L1596.0,710.6 L1597.0,710.8 L1598.0,711.0 L1599.0,711.2 L1600.0,711.4 L1601.0,711.7 L1602.0,711.9 L1603.0,712.1 L1604.0,712.3 L1605.0,712.5 L1606.0,712.7 L1607.0,712.9 L1608.0,713.1 L1609.0,713.3 L1610.0,713.5 L1611.0,713.7 L1612.0,713.9 L1613.0,714.1 L1614.0,714.3 L1615.0,714.5 L1616.0,714.7 L1617.0,714.9 L1618.0,715.1 L1619.0,715.3 L1620.0,715.5 L1621.0,715.7 L1622.0,715.8 L1623.0,716.0 L1624.0,716.2 L1625.0,716.4 L1626.0,716.6 L1627.0,716.8 L1628.0,716.9 L1629.0,717.1 L1630.0,717.3 L1631.0,717.5 L1632.0,717.6 L1633.0,717.8 L1634.0,718.0 L1635.0,718.2 L1636.0,718.3 L1637.0,718.5 L1638.0,718.7 L1639.0,718.8 L1640.0,719.0 L1641.0,719.2 L1642.0,719.3 L1643.0,719.5 L1644.0,719.6 L1645.0,719.8 L1646.0,720.0 L1647.0,720.1 L1648.0,720.3 L1649.0,720.4 L1650.0,720.6 L1651.0,720.7 L1652.0,720.9 L1653.0,721.1 L1654.0,721.2 L1655.0,721.4 L1656.0,721.5 L1657.0,721.7 L1658.0,721.8 L1659.0,721.9 L1660.0,722.1 L1661.0,722.2 L1662.0,722.4 L1663.0,722.5 L1664.0,722.7 L1665.0,722.8 L1666.0,723.0 L1667.0,723.1 L1668.0,723.2 L1669.0,723.4 L1670.0,723.5 L1671.0,723.6 L1672.0,723.8 L1673.0,723.9 L1674.0,724.0 L1675.0,724.2 L1676.0,724.3 L1677.0,724.4 L1678.0,724.6 L1679.0,724.7 L1680.0,724.8 L1681.0,725.0 L1682.0,725.1 L1683.0,725.2 L1684.0,725.4 L1685.0,725.5 L1686.0,725.6 L1687.0,725.7 L1688.0,725.9 L1689.0,726.0 L1690.0,726.1 L1691.0,726.2 L1692.0,726.3 L1693.0,726.5 L1694.0,726.6 L1695.0,726.7 L1696.0,726.8 L1697.0,726.9 L1698.0,727.1 L1699.0,727.2 L1700.0,727.3 L1701.0,727.4 L1702.0,727.5 L1703.0,727.6 L1704.0,727.8 L1705.0,727.9 L1706.0,728.0 L1707.0,728.1 L1708.0,728.2 L1709.0,728.3 L1710.0,728.4 L1711.0,728.5 L1712.0,728.7 L1713.0,728.8 L1714.0,728.9 L1715.0,729.0 L1716.0,729.1 L1717.0,729.2 L1718.0,729.3 L1719.0,729.4 L1720.0,729.5 L1721.0,729.6 L1722.0,729.7 L1723.0,729.8 L1724.0,730.0 L1725.0,730.1 L1726.0,730.2 L1727.0,730.3 L1728.0,730.4 L1729.0,730.5 L1730.0,730.6 L1731.0,730.7 L1732.0,730.8 L1733.0,730.9 L1734.0,731.0 L1735.0,731.1 L1736.0,731.2 L1737.0,731.3 L1738.0,731.4 L1739.0,731.5 L1740.0,731.6 L1741.0,731.7 L1742.0,731.8 L1743.0,731.9 L1744.0,732.0 L1745.0,732.1 L1746.0,732.2 L1747.0,732.3 L1748.0,732.4 L1749.0,732.5 L1750.0,732.6 L1751.0,732.7 L1752.0,732.8 L1753.0,732.9 L1754.0,733.0 L1755.0,733.1 L1756.0,733.2 L1757.0,733.3 L1758.0,733.4 L1759.0,733.5 L1760.0,733.6 L1761.0,733.7 L1762.0,733.8 L1763.0,733.9 L1764.0,734.0 L1765.0,734.1 L1766.0,734.2 L1767.0,734.3 L1768.0,734.4 L1769.0,734.5 L1770.0,734.6 L1771.0,734.7 L1772.0,734.8 L1773.0,734.9 L1774.0,735.0 L1775.0,735.1 L1776.0,735.2 L1777.0,735.3 L1778.0,735.4 L1779.0,735.5 L1780.0,735.6 L1781.0,735.7 L1782.0,735.8 L1783.0,735.9 L1784.0,736.0 L1785.0,736.1 L1786.0,736.2 L1787.0,736.3 L1788.0,736.4 L1789.0,736.5 L1790.0,736.6 L1791.0,736.7 L1792.0,736.8 L1793.0,736.9 L1794.0,737.0 L1795.0,737.1 L1796.0,737.2 L1797.0,737.3 L1798.0,737.4 L1799.0,737.5 L1800.0,737.6 L1801.0,737.7 L1802.0,737.8 L1803.0,737.9 L1804.0,738.0 L1805.0,738.1 L1806.0,738.2 L1807.0,738.3 L1808.0,738.4 L1809.0,738.5 L1810.0,738.6 L1811.0,738.7 L1812.0,738.8 L1813.0,739.0 L1814.0,739.1 L1815.0,739.2 L1816.0,739.3 L1817.0,739.4 L1818.0,739.5 L1819.0,739.6 L1820.0,739.7 L1821.0,739.8 L1822.0,739.9 L1823.0,740.0 L1824.0,740.2 L1825.0,740.3 L1826.0,740.4 L1827.0,740.5 L1828.0,740.6 L1829.0,740.7 L1830.0,740.8 L1831.0,741.0 L1832.0,741.1 L1833.0,741.2 L1834.0,741.3 L1835.0,741.4 L1836.0,741.5 L1837.0,741.7 L1838.0,741.8 L1839.0,741.9 L1840.0,742.0 L1841.0,742.1 L1842.0,742.3 L1843.0,742.4 L1844.0,742.5 L1845.0,742.6 L1846.0,742.8 L1847.0,742.9 L1848.0,743.0 L1849.0,743.1 L1850.0,743.3 L1851.0,743.4 L1852.0,743.5 L1853.0,743.7 L1854.0,743.8 L1855.0,743.9 L1856.0,744.1 L1857.0,744.2 L1858.0,744.3 L1859.0,744.5 L1860.0,744.6 L1861.0,744.7 L1862.0,744.9 L1863.0,745.0 L1864.0,745.1 L1865.0,745.3 L1866.0,745.4 L1867.0,745.6 L1868.0,745.7 L1869.0,745.8 L1870.0,746.0 L1871.0,746.1 L1872.0,746.3 L1873.0,746.4 L1874.0,746.6 L1875.0,746.7 L1876.0,746.9 L1877.0,747.0 L1878.0,747.2 L1879.0,747.3 L1880.0,747.5 L1881.0,747.6 L1882.0,747.8 L1883.0,747.9 L1884.0,748.1 L1885.0,748.2 L1886.0,748.4 L1887.0,748.6 L1888.0,748.7 L1889.0,748.9 L1890.0,749.0 L1891.0,749.2 L1891.7,749.3" fill="none" stroke="#0370E5" stroke-width="8.6" stroke-linejoin="round" stroke-linecap="round"/>
<g fill="#000">
<rect x="309" y="22" width="11" height="1361"/>
<rect x="309" y="22" width="1687" height="11"/>
<rect x="1986" y="22" width="10" height="1361"/>
<rect x="309" y="1372" width="1687" height="11"/>
<rect x="408" y="1364" width="11" height="8"/>
<rect x="507" y="1351" width="11" height="21"/>
<rect x="605" y="1364" width="11" height="8"/>
<rect x="704" y="1351" width="11" height="21"/>
<rect x="802" y="1364" width="11" height="8"/>
<rect x="901" y="1351" width="11" height="21"/>
<rect x="1000" y="1364" width="11" height="8"/>
<rect x="1098" y="1351" width="11" height="21"/>
<rect x="1197" y="1364" width="11" height="8"/>
<rect x="1295" y="1351" width="11" height="21"/>
<rect x="1394" y="1364" width="11" height="8"/>
<rect x="1493" y="1351" width="11" height="21"/>
<rect x="1591" y="1364" width="11" height="8"/>
<rect x="1690" y="1351" width="11" height="21"/>
<rect x="1788" y="1364" width="11" height="8"/>
<rect x="1887" y="1351" width="11" height="21"/>
<rect x="320" y="1281" width="8" height="11"/>
<rect x="320" y="1190" width="22" height="11"/>
<rect x="320" y="1098" width="8" height="11"/>
<rect x="320" y="1007" width="22" height="11"/>
<rect x="320" y="916" width="8" height="11"/>
<rect x="320" y="825" width="22" height="11"/>
<rect x="320" y="733" width="8" height="11"/>
<rect x="320" y="642" width="22" height="11"/>
<rect x="320" y="551" width="8" height="11"/>
<rect x="320" y="460" width="22" height="11"/>
<rect x="320" y="369" width="8" height="11"/>
<rect x="320" y="277" width="22" height="11"/>
<rect x="320" y="186" width="8" height="11"/>
<rect x="320" y="95" width="22" height="11"/>
</g>
<text x="315.0" y="1462.3" font-size="72" text-anchor="middle">0</text>
<text x="512.2" y="1462.3" font-size="72" text-anchor="middle">100</text>
<text x="709.4" y="1462.3" font-size="72" text-anchor="middle">200</text>
<text x="906.5" y="1462.3" font-size="72" text-anchor="middle">300</text>
<text x="1103.7" y="1462.3" font-size="72" text-anchor="middle">400</text>
<text x="1300.9" y="1462.3" font-size="72" text-anchor="middle">500</text>
<text x="1498.1" y="1462.3" font-size="72" text-anchor="middle">600</text>
<text x="1695.2" y="1462.3" font-size="72" text-anchor="middle">700</text>
<text x="1892.4" y="1462.3" font-size="72" text-anchor="middle">800</text>
<text x="286.7" y="1399.1" font-size="72" text-anchor="end">65</text>
<text x="286.7" y="1216.7" font-size="72" text-anchor="end">70</text>
<text x="286.7" y="1034.2" font-size="72" text-anchor="end">75</text>
<text x="286.7" y="851.8" font-size="72" text-anchor="end">80</text>
<text x="286.7" y="669.4" font-size="72" text-anchor="end">85</text>
<text x="286.7" y="486.9" font-size="72" text-anchor="end">90</text>
<text x="286.7" y="304.5" font-size="72" text-anchor="end">95</text>
<text x="286.7" y="122.1" font-size="72" text-anchor="end">100</text>
<text x="837.5" y="1600.7" font-size="83.5"><tspan letter-spacing="-0.43">Temperature (</tspan><tspan x="1353.6" y="1567.2" font-size="58">o</tspan><tspan x="1380.8" y="1600.7">C)</tspan></text>
<text transform="translate(97.7,876.0) rotate(-90)" font-size="83.5" letter-spacing="-0.35">Weight (%)</text>
<line x1="419" y1="1038.0" x2="578" y2="1038.0" stroke="#747474" stroke-width="8.0" stroke-linecap="round"/>
<text x="596.1" y="1062.6" font-size="70" letter-spacing="-0.25">Si-ZnBA-1</text>
<line x1="419" y1="1126.0" x2="578" y2="1126.0" stroke="#FF4040" stroke-width="8.0" stroke-linecap="round"/>
<text x="596.1" y="1150.9" font-size="70" letter-spacing="-0.25">Si-ZnBA-2</text>
<line x1="419" y1="1214.5" x2="578" y2="1214.5" stroke="#0370E5" stroke-width="7.5" stroke-linecap="round"/>
<text x="596.1" y="1239.2" font-size="70" letter-spacing="-0.25">Si-ZnBA-3</text>
</svg>
</body></html>
